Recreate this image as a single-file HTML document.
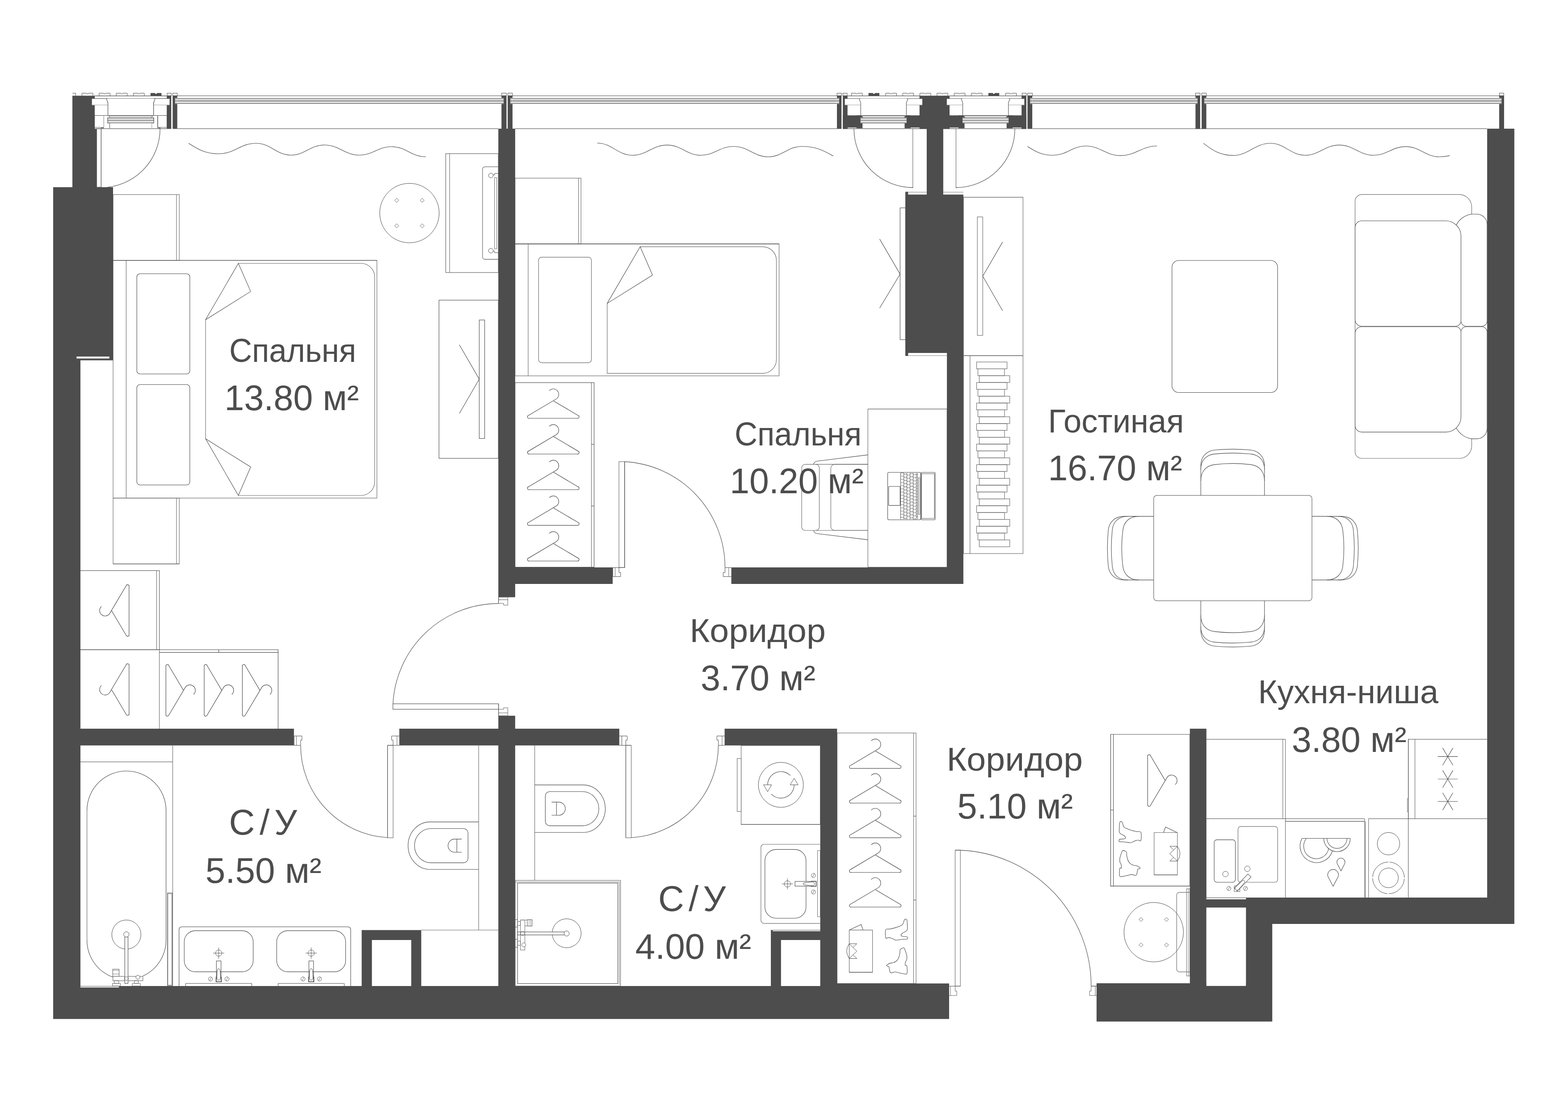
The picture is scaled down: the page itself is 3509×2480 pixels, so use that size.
<!DOCTYPE html>
<html lang="ru">
<head>
<meta charset="utf-8">
<title>План квартиры</title>
<style>
html,body{margin:0;padding:0;background:#fff;}
body{width:3509px;height:2480px;overflow:hidden;}
svg{display:block;}
text{font-family:"Liberation Sans",sans-serif;fill:#4d4d4d;}
</style>
</head>
<body>
<svg width="3509" height="2480" viewBox="0 0 3509 2480">
<rect width="3509" height="2480" fill="#fff"/>
<g id="bed1">
<rect x="253.1" y="435.5" width="148.1" height="147.2" rx="0" fill="none" stroke="#6e6e6e" stroke-width="1.15"/>
<path d="M395.0 435.5 L395.0 582.7" fill="none" stroke="#6e6e6e" stroke-width="1.15"/>
<rect x="253.1" y="1114.8" width="148.1" height="147.5" rx="0" fill="none" stroke="#6e6e6e" stroke-width="1.15"/>
<path d="M395.0 1114.8 L395.0 1262.3" fill="none" stroke="#6e6e6e" stroke-width="1.15"/>
<path d="M253.1 1262.3 L401.2 1262.3" fill="none" stroke="#4d4d4d" stroke-width="1.1"/>
<rect x="253.1" y="582.7" width="590.4" height="532.1" rx="0" fill="none" stroke="#6e6e6e" stroke-width="1.15"/>
<path d="M253.1 582.7 L843.5 582.7" fill="none" stroke="#4d4d4d" stroke-width="1.1"/>
<path d="M282.4 582.7 L282.4 1114.8" fill="none" stroke="#6e6e6e" stroke-width="1.15"/>
<rect x="306.2" y="612.7" width="118.6" height="224.3" rx="7" fill="none" stroke="#4d4d4d" stroke-width="1.1"/>
<rect x="306.2" y="860.8" width="118.6" height="224.7" rx="7" fill="none" stroke="#4d4d4d" stroke-width="1.1"/>
<path d="M533.4 589.5 L808 589.5 A30.5 30.5 0 0 1 838.5 620 L838.5 1078.5 A30.5 30.5 0 0 1 808 1109 L533.4 1109" fill="none" stroke="#6e6e6e" stroke-width="1.15" />
<path d="M460.0 715.8 L460.0 982.0" fill="none" stroke="#6e6e6e" stroke-width="1.15"/>
<path d="M460.0 715.8 L533.4 589.5 L561.0 652.4" fill="none" stroke="#4d4d4d" stroke-width="1.1"/>
<path d="M561.0 652.4 L460.0 715.8" fill="none" stroke="#4d4d4d" stroke-width="1.1"/>
<path d="M460.0 982.0 L533.4 1109.0 L561.0 1045.3" fill="none" stroke="#4d4d4d" stroke-width="1.1"/>
<path d="M561.0 1045.3 L460.0 982.0" fill="none" stroke="#4d4d4d" stroke-width="1.1"/>
<circle cx="916.3" cy="476.9" r="66.5" fill="none" stroke="#4d4d4d" stroke-width="1.0"/>
<path d="M883.2 448.4 L887.8 443.8 L892.4 448.4 L887.8 453.0 Z" fill="none" stroke="#4d4d4d" stroke-width="0.88"/>
<path d="M883.2 505.4 L887.8 500.8 L892.4 505.4 L887.8 510.0 Z" fill="none" stroke="#4d4d4d" stroke-width="0.88"/>
<path d="M940.2 448.4 L944.8 443.8 L949.4 448.4 L944.8 453.0 Z" fill="none" stroke="#4d4d4d" stroke-width="0.88"/>
<path d="M940.2 505.4 L944.8 500.8 L949.4 505.4 L944.8 510.0 Z" fill="none" stroke="#4d4d4d" stroke-width="0.88"/>
<rect x="997.5" y="343.9" width="117.7" height="266.1" rx="0" fill="none" stroke="#6e6e6e" stroke-width="1.26"/>
<path d="M1006.2 343.9 L1006.2 610.0" fill="none" stroke="#6e6e6e" stroke-width="1.15"/>
<path d="M1115.2 373.4 L1085.3 373.4 A5.5 5.5 0 0 0 1079.8 378.9 L1079.8 575 A5.5 5.5 0 0 0 1085.3 580.5 L1115.2 580.5" fill="none" stroke="#6e6e6e" stroke-width="1.26" />
<circle cx="1098.6" cy="392.8" r="5.2" fill="none" stroke="#4d4d4d" stroke-width="1.0"/>
<circle cx="1098.6" cy="561.1" r="5.2" fill="none" stroke="#4d4d4d" stroke-width="1.0"/>
<path d="M1103.5 391.5 L1107.0 391.5 L1107.0 388.2 L1115.2 388.2" fill="none" stroke="#4d4d4d" stroke-width="0.99"/>
<path d="M1103.5 562.4 L1107.0 562.4 L1107.0 565.7 L1115.2 565.7" fill="none" stroke="#4d4d4d" stroke-width="0.99"/>
<rect x="1106.6" y="397.5" width="5.0" height="159.5" rx="0" fill="none" stroke="#6e6e6e" stroke-width="1.03"/>
<rect x="982.4" y="671.8" width="132.8" height="354.1" rx="0" fill="none" stroke="#4d4d4d" stroke-width="1.1"/>
<rect x="1072.5" y="716.2" width="12.1" height="265.3" rx="0" fill="none" stroke="#4d4d4d" stroke-width="1.1"/>
<path d="M1028.0 771.8 L1072.5 848.6 L1028.0 925.5" fill="none" stroke="#4d4d4d" stroke-width="1.1"/>
<rect x="179.4" y="1277.1" width="177.2" height="177.2" rx="0" fill="none" stroke="#4d4d4d" stroke-width="1.1"/>
<path d="M350.5 1277.1 L350.5 1454.3" fill="none" stroke="#6e6e6e" stroke-width="1.15"/>
<path d="M356.6 1277.1 L356.6 1454.3" fill="none" stroke="#6e6e6e" stroke-width="1.15"/>
<path d="M179.4 1454.3 L622.4 1454.3 L622.4 1631.0" fill="none" stroke="#4d4d4d" stroke-width="1.1"/>
<path d="M356.6 1460.4 L622.4 1460.4" fill="none" stroke="#4d4d4d" stroke-width="1.1"/>
<path d="M489.6 1454.3 L489.6 1460.4" fill="none" stroke="#4d4d4d" stroke-width="1.1"/>
<path d="M356.6 1454.3 L356.6 1631.0" fill="none" stroke="#6e6e6e" stroke-width="1.15"/>
<path d="M-9 -22.6 A12.2 12.2 0 1 1 6.35 -3.98 L-55.2 32.6 A3.3 3.3 0 0 0 -53.5 39.2 L53.5 39.2 A3.3 3.3 0 0 0 55.2 32.6 L0.6 0.3" fill="none" stroke="#4d4d4d" stroke-width="1.15" transform="matrix(0 1 1 0 249.6 1366.5)"/>
<path d="M-9 -22.6 A12.2 12.2 0 1 1 6.35 -3.98 L-55.2 32.6 A3.3 3.3 0 0 0 -53.5 39.2 L53.5 39.2 A3.3 3.3 0 0 0 55.2 32.6 L0.6 0.3" fill="none" stroke="#4d4d4d" stroke-width="1.15" transform="matrix(0 1 1 0 249.6 1543.4)"/>
<path d="M-9 -22.6 A12.2 12.2 0 1 1 6.35 -3.98 L-55.2 32.6 A3.3 3.3 0 0 0 -53.5 39.2 L53.5 39.2 A3.3 3.3 0 0 0 55.2 32.6 L0.6 0.3" fill="none" stroke="#4d4d4d" stroke-width="1.15" transform="matrix(0 -1 -1 0 410.5 1545.2)"/>
<path d="M-9 -22.6 A12.2 12.2 0 1 1 6.35 -3.98 L-55.2 32.6 A3.3 3.3 0 0 0 -53.5 39.2 L53.5 39.2 A3.3 3.3 0 0 0 55.2 32.6 L0.6 0.3" fill="none" stroke="#4d4d4d" stroke-width="1.15" transform="matrix(0 -1 -1 0 496.2 1545.2)"/>
<path d="M-9 -22.6 A12.2 12.2 0 1 1 6.35 -3.98 L-55.2 32.6 A3.3 3.3 0 0 0 -53.5 39.2 L53.5 39.2 A3.3 3.3 0 0 0 55.2 32.6 L0.6 0.3" fill="none" stroke="#4d4d4d" stroke-width="1.15" transform="matrix(0 -1 -1 0 581.6 1545.2)"/>
</g>
<g id="bed2">
<rect x="1152.7" y="398.8" width="147.5" height="147.1" rx="0" fill="none" stroke="#6e6e6e" stroke-width="1.15"/>
<path d="M1294.6 398.8 L1294.6 545.9" fill="none" stroke="#6e6e6e" stroke-width="1.15"/>
<rect x="1152.7" y="545.9" width="590.8" height="295.4" rx="0" fill="none" stroke="#6e6e6e" stroke-width="1.15"/>
<path d="M1152.7 545.9 L1743.5 545.9" fill="none" stroke="#4d4d4d" stroke-width="1.1"/>
<path d="M1182.0 545.9 L1182.0 841.3" fill="none" stroke="#6e6e6e" stroke-width="1.15"/>
<rect x="1205.3" y="575.6" width="118.2" height="236.3" rx="7" fill="none" stroke="#6e6e6e" stroke-width="1.15"/>
<path d="M1432.6 552.3 L1707 552.3 A30.5 30.5 0 0 1 1737.5 582.8 L1737.5 805.1 A30.5 30.5 0 0 1 1707 835.6 L1358.8 835.6 L1358.8 679.1" fill="none" stroke="#6e6e6e" stroke-width="1.15" />
<path d="M1358.8 679.1 L1432.6 552.3 L1460.2 615.7" fill="none" stroke="#4d4d4d" stroke-width="1.1"/>
<path d="M1460.2 615.7 L1358.8 679.1" fill="none" stroke="#4d4d4d" stroke-width="1.1"/>
<rect x="1152.7" y="856.5" width="176.8" height="413.0" rx="0" fill="none" stroke="#4d4d4d" stroke-width="1.1"/>
<path d="M1323.5 856.5 L1323.5 1269.5" fill="none" stroke="#6e6e6e" stroke-width="1.15"/>
<path d="M1323.5 994.5 L1329.5 994.5" fill="none" stroke="#4d4d4d" stroke-width="1.1"/>
<path d="M1323.5 1132.5 L1329.5 1132.5" fill="none" stroke="#4d4d4d" stroke-width="1.1"/>
<path d="M-9 -22.6 A12.2 12.2 0 1 1 6.35 -3.98 L-55.2 32.6 A3.3 3.3 0 0 0 -53.5 39.2 L53.5 39.2 A3.3 3.3 0 0 0 55.2 32.6 L0.6 0.3" fill="none" stroke="#4d4d4d" stroke-width="1.15" transform="matrix(1 0 0 1 1238.2 897.1)"/>
<path d="M-9 -22.6 A12.2 12.2 0 1 1 6.35 -3.98 L-55.2 32.6 A3.3 3.3 0 0 0 -53.5 39.2 L53.5 39.2 A3.3 3.3 0 0 0 55.2 32.6 L0.6 0.3" fill="none" stroke="#4d4d4d" stroke-width="1.15" transform="matrix(1 0 0 1 1238.2 977.0)"/>
<path d="M-9 -22.6 A12.2 12.2 0 1 1 6.35 -3.98 L-55.2 32.6 A3.3 3.3 0 0 0 -53.5 39.2 L53.5 39.2 A3.3 3.3 0 0 0 55.2 32.6 L0.6 0.3" fill="none" stroke="#4d4d4d" stroke-width="1.15" transform="matrix(1 0 0 1 1238.2 1056.8)"/>
<path d="M-9 -22.6 A12.2 12.2 0 1 1 6.35 -3.98 L-55.2 32.6 A3.3 3.3 0 0 0 -53.5 39.2 L53.5 39.2 A3.3 3.3 0 0 0 55.2 32.6 L0.6 0.3" fill="none" stroke="#4d4d4d" stroke-width="1.15" transform="matrix(1 0 0 1 1238.2 1136.7)"/>
<path d="M-9 -22.6 A12.2 12.2 0 1 1 6.35 -3.98 L-55.2 32.6 A3.3 3.3 0 0 0 -53.5 39.2 L53.5 39.2 A3.3 3.3 0 0 0 55.2 32.6 L0.6 0.3" fill="none" stroke="#4d4d4d" stroke-width="1.15" transform="matrix(1 0 0 1 1238.2 1216.5)"/>
<rect x="2014.3" y="465.2" width="12.1" height="295.0" rx="0" fill="none" stroke="#4d4d4d" stroke-width="1.1"/>
<path d="M1968.6 535.1 L2014.3 613.6 L1968.6 689.5" fill="none" stroke="#4d4d4d" stroke-width="1.1"/>
<rect x="1942.2" y="915.5" width="177.1" height="354.0" rx="0" fill="none" stroke="#6e6e6e" stroke-width="1.15"/>
<path d="M1942.2 915.5 L2119.3 915.5" fill="none" stroke="#4d4d4d" stroke-width="1.1"/>
<rect x="1794.1" y="1039.3" width="39.4" height="147.9" rx="8" fill="none" stroke="#6e6e6e" stroke-width="1.15"/>
<path d="M1942.2 1039.3 L1868 1039.3 A8.7 8.7 0 0 0 1859.3 1048 L1859.3 1178.5 A8.7 8.7 0 0 0 1868 1187.2 L1942.2 1187.2" fill="none" stroke="#6e6e6e" stroke-width="1.15" />
<path d="M1826.0 1039.3 L1942.2 1039.3" fill="none" stroke="#4d4d4d" stroke-width="1.1"/>
<path d="M1826.0 1187.2 L1942.2 1187.2" fill="none" stroke="#6e6e6e" stroke-width="1.15"/>
<path d="M1942.2 1018.1 L1828 1032.2 Q1821.5 1033.5 1821 1039.3" fill="none" stroke="#4d4d4d" stroke-width="1.1" />
<path d="M1942.2 1208.1 L1828 1194.3 Q1821.5 1193 1821 1187.2" fill="none" stroke="#4d4d4d" stroke-width="1.1" />
<rect x="1986.5" y="1057.3" width="73.8" height="106.2" rx="3" fill="none" stroke="#4d4d4d" stroke-width="1.1"/>
<rect x="1988.7" y="1088.8" width="25.6" height="42.6" rx="1" fill="none" stroke="#4d4d4d" stroke-width="1.1"/>
<rect x="2061.2" y="1057.3" width="31.6" height="106.2" rx="1.5" fill="none" stroke="#4d4d4d" stroke-width="1.1"/>
<rect x="2062.3" y="1060.4" width="28.7" height="100.0" rx="0" fill="none" stroke="#6e6e6e" stroke-width="1.15"/>
<rect x="2055.5" y="1069.3" width="3.1" height="82.0" rx="0" fill="none" stroke="#6e6e6e" stroke-width="0.92"/>
<path d="M2015.5 1058.7 L2015.5 1162.2" fill="none" stroke="#4d4d4d" stroke-width="0.99"/>
<path d="M2022.7 1058.7 L2022.7 1162.2" fill="none" stroke="#4d4d4d" stroke-width="0.99"/>
<path d="M2029.6 1058.7 L2029.6 1162.2" fill="none" stroke="#4d4d4d" stroke-width="0.99"/>
<path d="M2036.5 1058.7 L2036.5 1162.2" fill="none" stroke="#4d4d4d" stroke-width="0.99"/>
<path d="M2043.6 1058.7 L2043.6 1162.2" fill="none" stroke="#4d4d4d" stroke-width="0.99"/>
<path d="M2050.5 1058.7 L2050.5 1162.2" fill="none" stroke="#4d4d4d" stroke-width="0.99"/>
<path d="M2053.4 1058.7 L2053.4 1162.2" fill="none" stroke="#4d4d4d" stroke-width="0.99"/>
<path d="M2015.5 1058.7 L2022.7 1058.7" fill="none" stroke="#6e6e6e" stroke-width="0.92"/>
<path d="M2015.5 1065.8 L2022.7 1065.8" fill="none" stroke="#6e6e6e" stroke-width="0.92"/>
<path d="M2015.5 1072.9 L2022.7 1072.9" fill="none" stroke="#6e6e6e" stroke-width="0.92"/>
<path d="M2015.5 1080.0 L2022.7 1080.0" fill="none" stroke="#6e6e6e" stroke-width="0.92"/>
<path d="M2015.5 1087.1 L2022.7 1087.1" fill="none" stroke="#6e6e6e" stroke-width="0.92"/>
<path d="M2015.5 1094.2 L2022.7 1094.2" fill="none" stroke="#6e6e6e" stroke-width="0.92"/>
<path d="M2015.5 1101.3 L2022.7 1101.3" fill="none" stroke="#6e6e6e" stroke-width="0.92"/>
<path d="M2015.5 1108.4 L2022.7 1108.4" fill="none" stroke="#6e6e6e" stroke-width="0.92"/>
<path d="M2015.5 1115.5 L2022.7 1115.5" fill="none" stroke="#6e6e6e" stroke-width="0.92"/>
<path d="M2015.5 1122.6 L2022.7 1122.6" fill="none" stroke="#6e6e6e" stroke-width="0.92"/>
<path d="M2015.5 1129.7 L2022.7 1129.7" fill="none" stroke="#6e6e6e" stroke-width="0.92"/>
<path d="M2015.5 1136.8 L2022.7 1136.8" fill="none" stroke="#6e6e6e" stroke-width="0.92"/>
<path d="M2015.5 1143.9 L2022.7 1143.9" fill="none" stroke="#6e6e6e" stroke-width="0.92"/>
<path d="M2015.5 1151.0 L2022.7 1151.0" fill="none" stroke="#6e6e6e" stroke-width="0.92"/>
<path d="M2015.5 1158.1 L2022.7 1158.1" fill="none" stroke="#6e6e6e" stroke-width="0.92"/>
<path d="M2022.7 1061.1 L2029.6 1061.1" fill="none" stroke="#4d4d4d" stroke-width="0.88"/>
<path d="M2022.7 1068.2 L2029.6 1068.2" fill="none" stroke="#4d4d4d" stroke-width="0.88"/>
<path d="M2022.7 1075.3 L2029.6 1075.3" fill="none" stroke="#4d4d4d" stroke-width="0.88"/>
<path d="M2022.7 1082.4 L2029.6 1082.4" fill="none" stroke="#4d4d4d" stroke-width="0.88"/>
<path d="M2022.7 1089.5 L2029.6 1089.5" fill="none" stroke="#4d4d4d" stroke-width="0.88"/>
<path d="M2022.7 1096.6 L2029.6 1096.6" fill="none" stroke="#4d4d4d" stroke-width="0.88"/>
<path d="M2022.7 1103.7 L2029.6 1103.7" fill="none" stroke="#4d4d4d" stroke-width="0.88"/>
<path d="M2022.7 1110.8 L2029.6 1110.8" fill="none" stroke="#4d4d4d" stroke-width="0.88"/>
<path d="M2022.7 1117.9 L2029.6 1117.9" fill="none" stroke="#4d4d4d" stroke-width="0.88"/>
<path d="M2022.7 1125.0 L2029.6 1125.0" fill="none" stroke="#4d4d4d" stroke-width="0.88"/>
<path d="M2022.7 1132.1 L2029.6 1132.1" fill="none" stroke="#4d4d4d" stroke-width="0.88"/>
<path d="M2022.7 1139.2 L2029.6 1139.2" fill="none" stroke="#4d4d4d" stroke-width="0.88"/>
<path d="M2022.7 1146.3 L2029.6 1146.3" fill="none" stroke="#4d4d4d" stroke-width="0.88"/>
<path d="M2022.7 1153.4 L2029.6 1153.4" fill="none" stroke="#4d4d4d" stroke-width="0.88"/>
<path d="M2022.7 1160.5 L2029.6 1160.5" fill="none" stroke="#4d4d4d" stroke-width="0.88"/>
<path d="M2029.6 1063.3 L2036.5 1063.3" fill="none" stroke="#6e6e6e" stroke-width="0.92"/>
<path d="M2029.6 1070.4 L2036.5 1070.4" fill="none" stroke="#6e6e6e" stroke-width="0.92"/>
<path d="M2029.6 1077.5 L2036.5 1077.5" fill="none" stroke="#6e6e6e" stroke-width="0.92"/>
<path d="M2029.6 1084.6 L2036.5 1084.6" fill="none" stroke="#6e6e6e" stroke-width="0.92"/>
<path d="M2029.6 1091.7 L2036.5 1091.7" fill="none" stroke="#6e6e6e" stroke-width="0.92"/>
<path d="M2029.6 1098.8 L2036.5 1098.8" fill="none" stroke="#6e6e6e" stroke-width="0.92"/>
<path d="M2029.6 1105.9 L2036.5 1105.9" fill="none" stroke="#6e6e6e" stroke-width="0.92"/>
<path d="M2029.6 1113.0 L2036.5 1113.0" fill="none" stroke="#6e6e6e" stroke-width="0.92"/>
<path d="M2029.6 1120.1 L2036.5 1120.1" fill="none" stroke="#6e6e6e" stroke-width="0.92"/>
<path d="M2029.6 1127.2 L2036.5 1127.2" fill="none" stroke="#6e6e6e" stroke-width="0.92"/>
<path d="M2029.6 1134.3 L2036.5 1134.3" fill="none" stroke="#6e6e6e" stroke-width="0.92"/>
<path d="M2029.6 1141.4 L2036.5 1141.4" fill="none" stroke="#6e6e6e" stroke-width="0.92"/>
<path d="M2029.6 1148.5 L2036.5 1148.5" fill="none" stroke="#6e6e6e" stroke-width="0.92"/>
<path d="M2029.6 1155.6 L2036.5 1155.6" fill="none" stroke="#6e6e6e" stroke-width="0.92"/>
<path d="M2036.5 1059.9 L2043.6 1059.9" fill="none" stroke="#4d4d4d" stroke-width="0.88"/>
<path d="M2036.5 1067.0 L2043.6 1067.0" fill="none" stroke="#4d4d4d" stroke-width="0.88"/>
<path d="M2036.5 1074.1 L2043.6 1074.1" fill="none" stroke="#4d4d4d" stroke-width="0.88"/>
<path d="M2036.5 1081.2 L2043.6 1081.2" fill="none" stroke="#4d4d4d" stroke-width="0.88"/>
<path d="M2036.5 1088.3 L2043.6 1088.3" fill="none" stroke="#4d4d4d" stroke-width="0.88"/>
<path d="M2036.5 1095.4 L2043.6 1095.4" fill="none" stroke="#4d4d4d" stroke-width="0.88"/>
<path d="M2036.5 1102.5 L2043.6 1102.5" fill="none" stroke="#4d4d4d" stroke-width="0.88"/>
<path d="M2036.5 1109.6 L2043.6 1109.6" fill="none" stroke="#4d4d4d" stroke-width="0.88"/>
<path d="M2036.5 1116.7 L2043.6 1116.7" fill="none" stroke="#4d4d4d" stroke-width="0.88"/>
<path d="M2036.5 1123.8 L2043.6 1123.8" fill="none" stroke="#4d4d4d" stroke-width="0.88"/>
<path d="M2036.5 1130.9 L2043.6 1130.9" fill="none" stroke="#4d4d4d" stroke-width="0.88"/>
<path d="M2036.5 1138.0 L2043.6 1138.0" fill="none" stroke="#4d4d4d" stroke-width="0.88"/>
<path d="M2036.5 1145.1 L2043.6 1145.1" fill="none" stroke="#4d4d4d" stroke-width="0.88"/>
<path d="M2036.5 1152.2 L2043.6 1152.2" fill="none" stroke="#4d4d4d" stroke-width="0.88"/>
<path d="M2036.5 1159.3 L2043.6 1159.3" fill="none" stroke="#4d4d4d" stroke-width="0.88"/>
<path d="M2043.6 1062.1 L2050.5 1062.1" fill="none" stroke="#6e6e6e" stroke-width="0.92"/>
<path d="M2043.6 1069.2 L2050.5 1069.2" fill="none" stroke="#6e6e6e" stroke-width="0.92"/>
<path d="M2043.6 1076.3 L2050.5 1076.3" fill="none" stroke="#6e6e6e" stroke-width="0.92"/>
<path d="M2043.6 1083.4 L2050.5 1083.4" fill="none" stroke="#6e6e6e" stroke-width="0.92"/>
<path d="M2043.6 1090.5 L2050.5 1090.5" fill="none" stroke="#6e6e6e" stroke-width="0.92"/>
<path d="M2043.6 1097.6 L2050.5 1097.6" fill="none" stroke="#6e6e6e" stroke-width="0.92"/>
<path d="M2043.6 1104.7 L2050.5 1104.7" fill="none" stroke="#6e6e6e" stroke-width="0.92"/>
<path d="M2043.6 1111.8 L2050.5 1111.8" fill="none" stroke="#6e6e6e" stroke-width="0.92"/>
<path d="M2043.6 1118.9 L2050.5 1118.9" fill="none" stroke="#6e6e6e" stroke-width="0.92"/>
<path d="M2043.6 1126.0 L2050.5 1126.0" fill="none" stroke="#6e6e6e" stroke-width="0.92"/>
<path d="M2043.6 1133.1 L2050.5 1133.1" fill="none" stroke="#6e6e6e" stroke-width="0.92"/>
<path d="M2043.6 1140.2 L2050.5 1140.2" fill="none" stroke="#6e6e6e" stroke-width="0.92"/>
<path d="M2043.6 1147.3 L2050.5 1147.3" fill="none" stroke="#6e6e6e" stroke-width="0.92"/>
<path d="M2043.6 1154.4 L2050.5 1154.4" fill="none" stroke="#6e6e6e" stroke-width="0.92"/>
<path d="M2043.6 1161.5 L2050.5 1161.5" fill="none" stroke="#6e6e6e" stroke-width="0.92"/>
<path d="M2050.5 1062.0 L2053.4 1062.0" fill="none" stroke="#6e6e6e" stroke-width="0.8"/>
<path d="M2050.5 1068.3 L2053.4 1068.3" fill="none" stroke="#6e6e6e" stroke-width="0.8"/>
<path d="M2050.5 1074.6 L2053.4 1074.6" fill="none" stroke="#6e6e6e" stroke-width="0.8"/>
<path d="M2050.5 1080.9 L2053.4 1080.9" fill="none" stroke="#6e6e6e" stroke-width="0.8"/>
<path d="M2050.5 1087.2 L2053.4 1087.2" fill="none" stroke="#6e6e6e" stroke-width="0.8"/>
<path d="M2050.5 1093.5 L2053.4 1093.5" fill="none" stroke="#6e6e6e" stroke-width="0.8"/>
<path d="M2050.5 1099.8 L2053.4 1099.8" fill="none" stroke="#6e6e6e" stroke-width="0.8"/>
<path d="M2050.5 1106.1 L2053.4 1106.1" fill="none" stroke="#6e6e6e" stroke-width="0.8"/>
<path d="M2050.5 1112.4 L2053.4 1112.4" fill="none" stroke="#6e6e6e" stroke-width="0.8"/>
<path d="M2050.5 1118.7 L2053.4 1118.7" fill="none" stroke="#6e6e6e" stroke-width="0.8"/>
<path d="M2050.5 1125.0 L2053.4 1125.0" fill="none" stroke="#6e6e6e" stroke-width="0.8"/>
<path d="M2050.5 1131.3 L2053.4 1131.3" fill="none" stroke="#6e6e6e" stroke-width="0.8"/>
<path d="M2050.5 1137.6 L2053.4 1137.6" fill="none" stroke="#6e6e6e" stroke-width="0.8"/>
<path d="M2050.5 1143.9 L2053.4 1143.9" fill="none" stroke="#6e6e6e" stroke-width="0.8"/>
<path d="M2050.5 1150.2 L2053.4 1150.2" fill="none" stroke="#6e6e6e" stroke-width="0.8"/>
<path d="M2050.5 1156.5 L2053.4 1156.5" fill="none" stroke="#6e6e6e" stroke-width="0.8"/>
</g>
<g id="living">
<rect x="2156.2" y="441.5" width="133.2" height="354.5" rx="0" fill="none" stroke="#6e6e6e" stroke-width="1.15"/>
<path d="M2156.2 441.5 L2289.4 441.5" fill="none" stroke="#4d4d4d" stroke-width="1.1"/>
<rect x="2187.2" y="485.5" width="12.1" height="265.2" rx="0" fill="none" stroke="#6e6e6e" stroke-width="1.15"/>
<path d="M2243.7 541.6 L2199.3 618.3 L2243.7 695.5" fill="none" stroke="#4d4d4d" stroke-width="1.1"/>
<rect x="2156.2" y="796.0" width="133.2" height="443.0" rx="0" fill="none" stroke="#6e6e6e" stroke-width="1.15"/>
<path d="M2170.8 796.0 L2170.8 1239.0" fill="none" stroke="#6e6e6e" stroke-width="1.15"/>
<rect x="2185.5" y="810.2" width="68.1" height="15.3" rx="0" fill="none" stroke="#6e6e6e" stroke-width="1.15"/>
<rect x="2188.5" y="825.5" width="59.5" height="15.3" rx="0" fill="none" stroke="#6e6e6e" stroke-width="1.15"/>
<rect x="2191.5" y="840.8" width="68.2" height="15.3" rx="0" fill="none" stroke="#6e6e6e" stroke-width="1.15"/>
<rect x="2185.5" y="856.2" width="68.1" height="15.3" rx="0" fill="none" stroke="#6e6e6e" stroke-width="1.15"/>
<rect x="2188.5" y="871.5" width="59.5" height="15.3" rx="0" fill="none" stroke="#6e6e6e" stroke-width="1.15"/>
<rect x="2191.5" y="886.8" width="68.2" height="15.3" rx="0" fill="none" stroke="#6e6e6e" stroke-width="1.15"/>
<rect x="2185.5" y="902.1" width="68.1" height="15.3" rx="0" fill="none" stroke="#6e6e6e" stroke-width="1.15"/>
<rect x="2188.5" y="917.4" width="59.5" height="15.3" rx="0" fill="none" stroke="#6e6e6e" stroke-width="1.15"/>
<rect x="2191.5" y="932.8" width="68.2" height="15.3" rx="0" fill="none" stroke="#6e6e6e" stroke-width="1.15"/>
<rect x="2185.5" y="948.1" width="68.1" height="15.3" rx="0" fill="none" stroke="#6e6e6e" stroke-width="1.15"/>
<rect x="2188.5" y="963.4" width="59.5" height="15.3" rx="0" fill="none" stroke="#6e6e6e" stroke-width="1.15"/>
<rect x="2191.5" y="978.7" width="68.2" height="15.3" rx="0" fill="none" stroke="#6e6e6e" stroke-width="1.15"/>
<rect x="2185.5" y="994.0" width="68.1" height="15.3" rx="0" fill="none" stroke="#6e6e6e" stroke-width="1.15"/>
<rect x="2188.5" y="1009.4" width="59.5" height="15.3" rx="0" fill="none" stroke="#6e6e6e" stroke-width="1.15"/>
<rect x="2191.5" y="1024.7" width="68.2" height="15.3" rx="0" fill="none" stroke="#6e6e6e" stroke-width="1.15"/>
<rect x="2185.5" y="1040.0" width="68.1" height="15.3" rx="0" fill="none" stroke="#6e6e6e" stroke-width="1.15"/>
<rect x="2188.5" y="1055.3" width="59.5" height="15.3" rx="0" fill="none" stroke="#6e6e6e" stroke-width="1.15"/>
<rect x="2191.5" y="1070.6" width="68.2" height="15.3" rx="0" fill="none" stroke="#6e6e6e" stroke-width="1.15"/>
<rect x="2185.5" y="1086.0" width="68.1" height="15.3" rx="0" fill="none" stroke="#6e6e6e" stroke-width="1.15"/>
<rect x="2188.5" y="1101.3" width="59.5" height="15.3" rx="0" fill="none" stroke="#6e6e6e" stroke-width="1.15"/>
<rect x="2191.5" y="1116.6" width="68.2" height="15.3" rx="0" fill="none" stroke="#6e6e6e" stroke-width="1.15"/>
<rect x="2185.5" y="1131.9" width="68.1" height="15.3" rx="0" fill="none" stroke="#6e6e6e" stroke-width="1.15"/>
<rect x="2188.5" y="1147.2" width="59.5" height="15.3" rx="0" fill="none" stroke="#6e6e6e" stroke-width="1.15"/>
<rect x="2191.5" y="1162.6" width="68.2" height="15.3" rx="0" fill="none" stroke="#6e6e6e" stroke-width="1.15"/>
<rect x="2185.5" y="1177.9" width="68.1" height="15.3" rx="0" fill="none" stroke="#6e6e6e" stroke-width="1.15"/>
<rect x="2188.5" y="1193.2" width="59.5" height="15.3" rx="0" fill="none" stroke="#6e6e6e" stroke-width="1.15"/>
<rect x="2191.5" y="1208.5" width="68.2" height="15.3" rx="0" fill="none" stroke="#6e6e6e" stroke-width="1.15"/>
<rect x="2622.8" y="583.0" width="236.3" height="295.5" rx="15" fill="none" stroke="#4d4d4d" stroke-width="1.1"/>
<path d="M3293.5 479.3 L3293.5 463.4 A28 28 0 0 0 3265.5 435.4 L3047.5 435.4 A15 15 0 0 0 3032.5 450.4 L3032.5 1011 A15 15 0 0 0 3047.5 1026 L3265.5 1026 A28 28 0 0 0 3293.5 998 L3293.5 982.1" fill="none" stroke="#6e6e6e" stroke-width="1.15" />
<path d="M3047.5 494.3 L3235.5 494.3 A34 34 0 0 1 3269.5 528.3 L3269.5 718 A12 12 0 0 1 3257.5 730.3 L3047.5 730.3 A15 15 0 0 1 3032.5 715.3 L3032.5 509.3 A15 15 0 0 1 3047.5 494.3 Z" fill="none" stroke="#4d4d4d" stroke-width="1.1" />
<path d="M3047.5 731.2 L3257.5 731.2 A12 12 0 0 1 3269.5 743.2 L3269.5 933 A34 34 0 0 1 3235.5 967.1 L3047.5 967.1 A15 15 0 0 1 3032.5 952.1 L3032.5 746.2 A15 15 0 0 1 3047.5 731.2 Z" fill="none" stroke="#4d4d4d" stroke-width="1.1" />
<path d="M3258.9 503.7 A46 46 0 0 1 3293.5 479.3 L3305 479.3 A23 23 0 0 1 3328 502.3 L3328 718 A12 12 0 0 1 3316 730.3 L3281.5 730.3 A12 12 0 0 1 3269.5 718.3" fill="none" stroke="#4d4d4d" stroke-width="1.1" />
<path d="M3258.9 957.7 A46 46 0 0 0 3293.5 982.1 L3305 982.1 A23 23 0 0 0 3328 959.1 L3328 743.4 A12 12 0 0 0 3316 731.2 L3281.5 731.2 A12 12 0 0 0 3269.5 743.2" fill="none" stroke="#4d4d4d" stroke-width="1.1" />
<g fill="none" stroke="#4d4d4d" stroke-width="1.1" transform="translate(2758.5 1108.9) rotate(0)"><path d="M-71.25 0 L-71.25 -66 C-71.25 -90 -55 -100 -40 -101.6 Q0 -105.5 40 -101.6 C55 -100 71.25 -90 71.25 -66 L71.25 0"/><path d="M-71.25 -58 C-71.25 -80 -58 -90.5 -42 -92.5 Q0 -97 42 -92.5 C58 -90.5 71.25 -80 71.25 -58"/><path d="M-71.25 -33 C-71.25 -55 -58 -67 -40 -69 Q0 -74 40 -69 C58 -67 71.25 -55 71.25 -33"/></g>
<g fill="none" stroke="#4d4d4d" stroke-width="1.1" transform="translate(2936.0 1226.9) rotate(90)"><path d="M-71.25 0 L-71.25 -66 C-71.25 -90 -55 -100 -40 -101.6 Q0 -105.5 40 -101.6 C55 -100 71.25 -90 71.25 -66 L71.25 0"/><path d="M-71.25 -58 C-71.25 -80 -58 -90.5 -42 -92.5 Q0 -97 42 -92.5 C58 -90.5 71.25 -80 71.25 -58"/><path d="M-71.25 -33 C-71.25 -55 -58 -67 -40 -69 Q0 -74 40 -69 C58 -67 71.25 -55 71.25 -33"/></g>
<g fill="none" stroke="#4d4d4d" stroke-width="1.1" transform="translate(2758.5 1344.6) rotate(180)"><path d="M-71.25 0 L-71.25 -66 C-71.25 -90 -55 -100 -40 -101.6 Q0 -105.5 40 -101.6 C55 -100 71.25 -90 71.25 -66 L71.25 0"/><path d="M-71.25 -58 C-71.25 -80 -58 -90.5 -42 -92.5 Q0 -97 42 -92.5 C58 -90.5 71.25 -80 71.25 -58"/><path d="M-71.25 -33 C-71.25 -55 -58 -67 -40 -69 Q0 -74 40 -69 C58 -67 71.25 -55 71.25 -33"/></g>
<g fill="none" stroke="#4d4d4d" stroke-width="1.1" transform="translate(2581.8 1226.9) rotate(270)"><path d="M-71.25 0 L-71.25 -66 C-71.25 -90 -55 -100 -40 -101.6 Q0 -105.5 40 -101.6 C55 -100 71.25 -90 71.25 -66 L71.25 0"/><path d="M-71.25 -58 C-71.25 -80 -58 -90.5 -42 -92.5 Q0 -97 42 -92.5 C58 -90.5 71.25 -80 71.25 -58"/><path d="M-71.25 -33 C-71.25 -55 -58 -67 -40 -69 Q0 -74 40 -69 C58 -67 71.25 -55 71.25 -33"/></g>
<rect x="2581.8" y="1108.9" width="354.2" height="235.7" rx="7" fill="#fff" stroke="#6e6e6e" stroke-width="1.26"/>
</g>
<g id="bath">
<path d="M386.5 1668.6 L386.5 2207.0" fill="none" stroke="#6e6e6e" stroke-width="1.15"/>
<path d="M179.4 1705.2 L386.5 1705.2" fill="none" stroke="#4d4d4d" stroke-width="1.1"/>
<path d="M194.6 1814.3 A88.5 88.5 0 0 1 371.6 1814.3 L371.6 2104 A88.5 88.5 0 0 1 319.7 2184.6 M252.7 2187.1 A88.5 88.5 0 0 1 194.6 2104" fill="none" stroke="#4d4d4d" stroke-width="1.1" />
<path d="M194.6 1814.3 L194.6 2104.0" fill="none" stroke="#6e6e6e" stroke-width="1.15"/>
<circle cx="282.8" cy="2091.8" r="32.6" fill="none" stroke="#4d4d4d" stroke-width="1.0"/>
<rect x="279.3" y="2097.0" width="7.2" height="104.2" rx="0" fill="#fff" stroke="#4d4d4d" stroke-width="1.1"/>
<circle cx="282.8" cy="2091.5" r="6.0" fill="#fff" stroke="#4d4d4d" stroke-width="1.0"/>
<rect x="252.7" y="2185.4" width="26.6" height="9.7" rx="0" fill="none" stroke="#6e6e6e" stroke-width="1.15"/>
<rect x="286.5" y="2185.4" width="33.2" height="9.7" rx="0" fill="none" stroke="#6e6e6e" stroke-width="1.15"/>
<rect x="252.3" y="2169.3" width="14.2" height="16.1" rx="0" fill="none" stroke="#6e6e6e" stroke-width="1.15"/>
<path d="M252.3 2172.0 L266.5 2172.0" fill="none" stroke="#6e6e6e" stroke-width="0.92"/>
<path d="M252.3 2180.0 L266.5 2180.0" fill="none" stroke="#6e6e6e" stroke-width="0.92"/>
<circle cx="308.6" cy="2187.4" r="4.5" fill="#fff" stroke="#4d4d4d" stroke-width="1.0"/>
<circle cx="283.0" cy="2190.3" r="4.3" fill="none" stroke="#4d4d4d" stroke-width="0.8"/>
<rect x="255.7" y="2195.1" width="10.0" height="6.1" rx="0" fill="none" stroke="#6e6e6e" stroke-width="1.03"/>
<rect x="251.5" y="2201.2" width="18.0" height="5.8" rx="0" fill="none" stroke="#6e6e6e" stroke-width="1.03"/>
<rect x="300.6" y="2195.1" width="8.8" height="6.1" rx="0" fill="none" stroke="#6e6e6e" stroke-width="1.03"/>
<rect x="295.9" y="2201.2" width="18.0" height="5.8" rx="0" fill="none" stroke="#6e6e6e" stroke-width="1.03"/>
<rect x="374.6" y="1998.6" width="11.3" height="207.6" rx="0" fill="none" stroke="#6e6e6e" stroke-width="1.15"/>
<rect x="375.8" y="2000.3" width="8.8" height="204.7" rx="0" fill="none" stroke="#6e6e6e" stroke-width="0.92"/>
<path d="M400.7 2207 L400.7 2080.5 A6 6 0 0 1 406.7 2074.5 L778.8 2074.5 A6 6 0 0 1 784.8 2080.5 L784.8 2207" fill="none" stroke="#4d4d4d" stroke-width="1.1" />
<rect x="412.3" y="2083.1" width="154.3" height="92.0" rx="25" fill="none" stroke="#4d4d4d" stroke-width="1.1"/>
<circle cx="489.4" cy="2133.3" r="7.0" fill="none" stroke="#4d4d4d" stroke-width="0.9"/>
<path d="M476.9 2133.3 L501.9 2133.3" fill="none" stroke="#4d4d4d" stroke-width="0.88"/>
<path d="M489.4 2120.8 L489.4 2145.8" fill="none" stroke="#4d4d4d" stroke-width="0.88"/>
<rect x="484.3" y="2150.8" width="10.3" height="46.3" rx="0" fill="none" stroke="#4d4d4d" stroke-width="1.1"/>
<path d="M483.2 2186.2 L483.2 2197.6 L495.7 2197.6 L495.7 2186.2" fill="none" stroke="#4d4d4d" stroke-width="1.1" />
<path d="M485.4 2190 Q485.4 2172 487.4 2169 Q489.4 2166.5 491.4 2169 Q493.4 2172 493.4 2190 Q489.4 2197.5 485.4 2190 Z" fill="#fff" stroke="#4d4d4d" stroke-width="0.99" />
<circle cx="471.1" cy="2191.2" r="4.7" fill="none" stroke="#4d4d4d" stroke-width="0.9"/>
<path d="M468.9 2194.8 L473.3 2187.6" fill="none" stroke="#4d4d4d" stroke-width="0.88"/>
<circle cx="508.0" cy="2191.2" r="4.7" fill="none" stroke="#4d4d4d" stroke-width="0.9"/>
<path d="M505.8 2194.8 L510.2 2187.6" fill="none" stroke="#4d4d4d" stroke-width="0.88"/>
<path d="M415.4 2207.0 L415.4 2201.2 L563.4 2201.2 L563.4 2207.0" fill="none" stroke="#4d4d4d" stroke-width="0.99"/>
<rect x="619.2" y="2083.1" width="154.3" height="92.0" rx="25" fill="none" stroke="#4d4d4d" stroke-width="1.1"/>
<circle cx="696.4" cy="2133.3" r="7.0" fill="none" stroke="#4d4d4d" stroke-width="0.9"/>
<path d="M683.9 2133.3 L708.9 2133.3" fill="none" stroke="#4d4d4d" stroke-width="0.88"/>
<path d="M696.4 2120.8 L696.4 2145.8" fill="none" stroke="#4d4d4d" stroke-width="0.88"/>
<rect x="691.3" y="2150.8" width="10.3" height="46.3" rx="0" fill="none" stroke="#4d4d4d" stroke-width="1.1"/>
<path d="M690.2 2186.2 L690.2 2197.6 L702.7 2197.6 L702.7 2186.2" fill="none" stroke="#4d4d4d" stroke-width="1.1" />
<path d="M692.4 2190 Q692.4 2172 694.4 2169 Q696.4 2166.5 698.4 2169 Q700.4 2172 700.4 2190 Q696.4 2197.5 692.4 2190 Z" fill="#fff" stroke="#4d4d4d" stroke-width="0.99" />
<circle cx="678.1" cy="2191.2" r="4.7" fill="none" stroke="#4d4d4d" stroke-width="0.9"/>
<path d="M675.9 2194.8 L680.3 2187.6" fill="none" stroke="#4d4d4d" stroke-width="0.88"/>
<circle cx="715.0" cy="2191.2" r="4.7" fill="none" stroke="#4d4d4d" stroke-width="0.9"/>
<path d="M712.8 2194.8 L717.2 2187.6" fill="none" stroke="#4d4d4d" stroke-width="0.88"/>
<path d="M622.4 2207.0 L622.4 2201.2 L770.4 2201.2 L770.4 2207.0" fill="none" stroke="#4d4d4d" stroke-width="0.99"/>
<g fill="none" stroke="#4d4d4d" stroke-width="1.1" transform="translate(1196.6 1810.1)"><path d="M0 -53.2 L108.7 -53.2 A49.3 53.2 0 0 1 108.7 53.2 L0 53.2"/><path d="M33.8 -38.3 L106.5 -38.3 A37.1 38.3 0 0 1 106.5 38.3 L33.8 38.3 A10 10 0 0 1 23.8 28.3 L23.8 -28.3 A10 10 0 0 1 33.8 -38.3 Z"/><path d="M37.9 -14.7 L53.8 -14.7 A14.7 14.7 0 0 1 53.8 14.7 L37.9 14.7 M48.8 -14.7 L48.8 14.7"/></g>
<g fill="none" stroke="#4d4d4d" stroke-width="1.1" transform="translate(1071.2 1892.8) scale(-1 1)"><path d="M0 -53.2 L108.7 -53.2 A49.3 53.2 0 0 1 108.7 53.2 L0 53.2"/><path d="M33.8 -38.3 L106.5 -38.3 A37.1 38.3 0 0 1 106.5 38.3 L33.8 38.3 A10 10 0 0 1 23.8 28.3 L23.8 -28.3 A10 10 0 0 1 33.8 -38.3 Z"/><path d="M37.9 -14.7 L53.8 -14.7 A14.7 14.7 0 0 1 53.8 14.7 L37.9 14.7 M48.8 -14.7 L48.8 14.7"/></g>
<path d="M1071.2 1668.6 L1071.2 2081.7 L1115.2 2081.7" fill="none" stroke="#6e6e6e" stroke-width="1.15"/>
<path d="M942.7 2081.7 L1071.2 2081.7" fill="none" stroke="#6e6e6e" stroke-width="1.15"/>
<path d="M1196.6 1668.6 L1196.6 1970.5" fill="none" stroke="#6e6e6e" stroke-width="1.15"/>
<rect x="1153.0" y="1970.5" width="235.7" height="236.5" rx="0" fill="none" stroke="#6e6e6e" stroke-width="1.15"/>
<path d="M1153.0 1974.1 L1386.0 1974.1 L1386.0 2204.0" fill="none" stroke="#6e6e6e" stroke-width="1.03"/>
<rect x="1158.3" y="1976.6" width="224.3" height="224.9" rx="0" fill="none" stroke="#4d4d4d" stroke-width="1.1"/>
<circle cx="1268.1" cy="2088.9" r="32.4" fill="none" stroke="#4d4d4d" stroke-width="1.0"/>
<rect x="1158.3" y="2085.9" width="104.8" height="6.7" rx="0" fill="#fff" stroke="#4d4d4d" stroke-width="1.1"/>
<circle cx="1268.1" cy="2089.4" r="5.8" fill="#fff" stroke="#4d4d4d" stroke-width="1.0"/>
<rect x="1164.6" y="2059.3" width="10.0" height="67.0" rx="0" fill="none" stroke="#6e6e6e" stroke-width="1.03"/>
<rect x="1179.9" y="2058.5" width="10.8" height="14.3" rx="0" fill="none" stroke="#4d4d4d" stroke-width="0.99"/>
<path d="M1164.6 2059.3 L1179.9 2059.3" fill="none" stroke="#6e6e6e" stroke-width="1.03"/>
<path d="M1174.6 2072.3 L1179.9 2072.3" fill="none" stroke="#6e6e6e" stroke-width="1.03"/>
<path d="M1184.0 2058.5 L1184.0 2072.8" fill="none" stroke="#6e6e6e" stroke-width="0.8"/>
<path d="M1187.5 2058.5 L1187.5 2072.8" fill="none" stroke="#6e6e6e" stroke-width="0.8"/>
<circle cx="1172.1" cy="2114.9" r="4.5" fill="#fff" stroke="#4d4d4d" stroke-width="0.9"/>
<circle cx="1169.6" cy="2089.3" r="4.6" fill="none" stroke="#4d4d4d" stroke-width="0.8"/>
<path d="M1153.0 2058.3 L1158.3 2058.3" fill="none" stroke="#4d4d4d" stroke-width="0.99"/>
<path d="M1153.0 2075.0 L1158.3 2075.0" fill="none" stroke="#4d4d4d" stroke-width="0.99"/>
<path d="M1153.0 2102.3 L1158.3 2102.3" fill="none" stroke="#4d4d4d" stroke-width="0.99"/>
<path d="M1153.0 2120.3 L1158.3 2120.3" fill="none" stroke="#4d4d4d" stroke-width="0.99"/>
<rect x="1158.3" y="2062.6" width="6.3" height="8.9" rx="0" fill="none" stroke="#4d4d4d" stroke-width="0.88"/>
<rect x="1158.3" y="2106.3" width="6.3" height="9.7" rx="0" fill="none" stroke="#4d4d4d" stroke-width="0.88"/>
<rect x="1658.6" y="1668.8" width="177.1" height="176.6" rx="0" fill="none" stroke="#6e6e6e" stroke-width="1.15"/>
<path d="M1658.6 1845.4 L1835.7 1845.4" fill="none" stroke="#4d4d4d" stroke-width="1.1"/>
<rect x="1649.7" y="1697.7" width="8.9" height="118.6" rx="0" fill="none" stroke="#6e6e6e" stroke-width="1.15"/>
<circle cx="1747.5" cy="1756.7" r="50.4" fill="none" stroke="#4d4d4d" stroke-width="1.0"/>
<path d="M1717.9 1756.7 A29.7 29.7 0 0 1 1768.8 1735.9" fill="none" stroke="#4d4d4d" stroke-width="1.1" />
<path d="M1777.2 1756.7 A29.7 29.7 0 0 1 1726.3 1777.5" fill="none" stroke="#4d4d4d" stroke-width="1.1" />
<path d="M1708.7 1756.7 L1726.8 1756.7 L1717.9 1772.0 Z" fill="#fff" stroke="#4d4d4d" stroke-width="0.99"/>
<path d="M1768.3 1756.7 L1786.1 1756.7 L1777.2 1742.0 Z" fill="#fff" stroke="#4d4d4d" stroke-width="0.99"/>
<path d="M1835.7 1889.7 L1709.9 1889.7 A7 7 0 0 0 1702.9 1896.7 L1702.9 2059.9 A7 7 0 0 0 1709.9 2066.9 L1835.7 2066.9" fill="none" stroke="#6e6e6e" stroke-width="1.15" />
<rect x="1711.8" y="1901.4" width="92.0" height="153.8" rx="25" fill="none" stroke="#4d4d4d" stroke-width="1.1"/>
<circle cx="1762.2" cy="1978.4" r="7.0" fill="none" stroke="#4d4d4d" stroke-width="0.9"/>
<path d="M1749.7 1978.4 L1774.7 1978.4" fill="none" stroke="#4d4d4d" stroke-width="0.88"/>
<path d="M1762.2 1965.9 L1762.2 1990.9" fill="none" stroke="#4d4d4d" stroke-width="0.88"/>
<rect x="1779.1" y="1972.9" width="47.2" height="10.5" rx="0" fill="#fff" stroke="#4d4d4d" stroke-width="1.1"/>
<path d="M1798 1976.5 Q1797 1978.2 1798 1980 L1815 1982.5 Q1823 1983 1823 1978.2 Q1823 1973.4 1815 1974 Z" fill="#fff" stroke="#4d4d4d" stroke-width="0.99" />
<path d="M1814.5 1972.4 L1826.8 1972.4 L1826.8 1984.0 L1814.5 1984.0" fill="none" stroke="#4d4d4d" stroke-width="1.1"/>
<circle cx="1820.4" cy="1959.6" r="4.7" fill="none" stroke="#4d4d4d" stroke-width="0.9"/>
<path d="M1818.2 1963.2 L1822.6 1956.0" fill="none" stroke="#4d4d4d" stroke-width="0.88"/>
<circle cx="1820.4" cy="1996.5" r="4.7" fill="none" stroke="#4d4d4d" stroke-width="0.9"/>
<path d="M1818.2 2000.1 L1822.6 1992.9" fill="none" stroke="#4d4d4d" stroke-width="0.88"/>
<rect x="1829.6" y="1903.9" width="6.1" height="148.0" rx="0" fill="none" stroke="#6e6e6e" stroke-width="1.03"/>
</g>
<g id="hall">
<rect x="1873.3" y="1640.6" width="176.7" height="560.7" rx="0" fill="none" stroke="#6e6e6e" stroke-width="1.15"/>
<path d="M2044.5 1640.6 L2044.5 2201.3" fill="none" stroke="#6e6e6e" stroke-width="1.15"/>
<path d="M2044.5 1826.8 L2050.0 1826.8" fill="none" stroke="#4d4d4d" stroke-width="1.1"/>
<path d="M2044.5 2014.4 L2050.0 2014.4" fill="none" stroke="#4d4d4d" stroke-width="1.1"/>
<path d="M-9 -22.6 A12.2 12.2 0 1 1 6.35 -3.98 L-55.2 32.6 A3.3 3.3 0 0 0 -53.5 39.2 L53.5 39.2 A3.3 3.3 0 0 0 55.2 32.6 L0.6 0.3" fill="none" stroke="#4d4d4d" stroke-width="1.15" transform="matrix(1 0 0 1 1958.7 1680.7)"/>
<path d="M-9 -22.6 A12.2 12.2 0 1 1 6.35 -3.98 L-55.2 32.6 A3.3 3.3 0 0 0 -53.5 39.2 L53.5 39.2 A3.3 3.3 0 0 0 55.2 32.6 L0.6 0.3" fill="none" stroke="#4d4d4d" stroke-width="1.15" transform="matrix(1 0 0 1 1958.7 1758.3)"/>
<path d="M-9 -22.6 A12.2 12.2 0 1 1 6.35 -3.98 L-55.2 32.6 A3.3 3.3 0 0 0 -53.5 39.2 L53.5 39.2 A3.3 3.3 0 0 0 55.2 32.6 L0.6 0.3" fill="none" stroke="#4d4d4d" stroke-width="1.15" transform="matrix(1 0 0 1 1958.7 1835.9)"/>
<path d="M-9 -22.6 A12.2 12.2 0 1 1 6.35 -3.98 L-55.2 32.6 A3.3 3.3 0 0 0 -53.5 39.2 L53.5 39.2 A3.3 3.3 0 0 0 55.2 32.6 L0.6 0.3" fill="none" stroke="#4d4d4d" stroke-width="1.15" transform="matrix(1 0 0 1 1958.7 1913.5)"/>
<path d="M-9 -22.6 A12.2 12.2 0 1 1 6.35 -3.98 L-55.2 32.6 A3.3 3.3 0 0 0 -53.5 39.2 L53.5 39.2 A3.3 3.3 0 0 0 55.2 32.6 L0.6 0.3" fill="none" stroke="#4d4d4d" stroke-width="1.15" transform="matrix(1 0 0 1 1958.7 1991.1)"/>
<path d="M1982.3 2081.0 C1983.9 2077.7 1988.5 2080.1 1992.0 2079.4 C1995.5 2078.6 1999.4 2077.7 2003.1 2076.6 C2006.8 2075.5 2011.5 2073.8 2014.2 2072.7 C2016.9 2071.6 2017.9 2071.0 2019.2 2069.9 C2020.5 2068.8 2021.1 2067.5 2021.7 2066.1 C2022.4 2064.6 2022.4 2062.4 2022.9 2061.1 C2023.4 2059.7 2023.9 2058.6 2024.7 2058.0 C2025.6 2057.3 2027.2 2056.8 2028.1 2057.2 C2028.9 2057.5 2029.4 2058.4 2029.7 2060.0 C2030.1 2061.5 2030.2 2063.3 2030.3 2066.6 C2030.4 2069.9 2031.0 2077.0 2030.5 2079.9 C2030.0 2082.9 2028.9 2083.2 2027.5 2084.4 C2026.1 2085.6 2023.6 2086.1 2022.0 2087.1 C2020.3 2088.2 2018.5 2089.7 2017.5 2090.8 C2016.6 2091.9 2016.2 2093.0 2016.4 2093.8 C2016.6 2094.6 2017.2 2095.0 2018.6 2095.4 C2020.1 2095.9 2023.3 2096.1 2025.3 2096.3 C2027.3 2096.6 2029.6 2096.2 2030.5 2097.1 C2031.4 2098.0 2031.7 2101.0 2030.5 2101.9 C2029.3 2102.7 2025.8 2102.1 2023.1 2102.3 C2020.4 2102.5 2017.3 2102.9 2014.2 2103.2 C2011.2 2103.5 2007.2 2104.5 2004.8 2104.3 C2002.4 2104.1 2001.5 2102.9 1999.8 2102.1 C1998.0 2101.3 1996.3 2100.3 1994.2 2099.7 C1992.2 2099.1 1989.6 2098.6 1987.6 2098.6 C1985.6 2098.5 1983.1 2102.2 1982.3 2099.3 C1981.4 2096.4 1980.6 2084.4 1982.3 2081.0 Z" fill="none" stroke="#4d4d4d" stroke-width="1.1" />
<path d="M2022.9 2121.5 C2021.4 2121.1 2017.9 2122.9 2016.4 2123.7 C2015.0 2124.6 2014.6 2125.1 2014.2 2126.5 C2013.8 2127.9 2014.3 2129.9 2014.0 2132.1 C2013.7 2134.2 2013.2 2136.9 2012.5 2139.3 C2011.8 2141.7 2011.1 2144.3 2009.8 2146.5 C2008.5 2148.6 2006.6 2150.6 2004.8 2152.0 C2002.9 2153.4 2000.8 2154.1 1998.7 2154.8 C1996.5 2155.4 1994.1 2155.3 1992.0 2155.9 C1990.0 2156.5 1987.9 2157.8 1986.5 2158.7 C1985.1 2159.5 1983.9 2160.2 1983.7 2160.9 C1983.5 2161.5 1984.4 2162.1 1985.4 2162.6 C1986.3 2163.0 1988.4 2162.5 1989.2 2163.7 C1990.1 2164.9 1989.9 2167.6 1990.4 2169.8 C1990.8 2171.9 1991.2 2175.1 1992.0 2176.4 C1992.9 2177.7 1993.5 2177.7 1995.3 2177.5 C1997.2 2177.4 2000.3 2175.5 2003.1 2175.5 C2005.9 2175.5 2008.8 2176.9 2012.0 2177.5 C2015.1 2178.2 2019.0 2179.3 2022.0 2179.5 C2024.9 2179.8 2028.3 2182.1 2029.5 2179.2 C2030.8 2176.3 2030.1 2165.1 2029.5 2162.0 C2028.9 2159.0 2026.4 2162.2 2025.9 2160.9 C2025.3 2159.6 2025.9 2155.9 2026.2 2154.2 C2026.5 2152.6 2027.0 2152.0 2027.5 2150.9 C2028.0 2149.8 2028.8 2149.2 2029.2 2147.6 C2029.5 2145.9 2029.7 2143.1 2029.5 2140.9 C2029.3 2138.7 2028.8 2136.7 2028.1 2134.3 C2027.4 2131.9 2026.2 2128.6 2025.3 2126.5 C2024.4 2124.4 2024.3 2122.0 2022.9 2121.5 Z" fill="none" stroke="#4d4d4d" stroke-width="1.1" />
<path d="M1900.5 2081.6 L1952.6 2081.6 L1952.6 2176.4 L1900.5 2176.4 Z" fill="none" stroke="#6e6e6e" stroke-width="1.15"/>
<path d="M1900.5 2176.4 L1952.6 2176.4" fill="none" stroke="#4d4d4d" stroke-width="1.1"/>
<path d="M1901.1 2081.6 L1927.1 2069.2 L1931.6 2081.6" fill="none" stroke="#4d4d4d" stroke-width="1.1"/>
<path d="M1900.5 2112.3 L1917.5 2112.3 L1909.0 2120.4" fill="none" stroke="#4d4d4d" stroke-width="0.99"/>
<path d="M1900.5 2145.4 L1917.5 2145.4 L1909.0 2137.4" fill="none" stroke="#4d4d4d" stroke-width="0.99"/>
<path d="M1900.5 2112.3 L1917.5 2129.1 L1900.5 2145.4" fill="none" stroke="#4d4d4d" stroke-width="0.99"/>
<path d="M1900.5 2112.3 Q1888.9 2128.8 1900.5 2145.4" fill="none" stroke="#4d4d4d" stroke-width="0.99" />
<rect x="2485.5" y="1643.7" width="177.2" height="339.7" rx="0" fill="none" stroke="#6e6e6e" stroke-width="1.15"/>
<path d="M2485.5 1643.7 L2485.5 1983.4 L2662.7 1983.4" fill="none" stroke="#4d4d4d" stroke-width="1.1"/>
<path d="M2491.7 1643.7 L2491.7 1983.4" fill="none" stroke="#4d4d4d" stroke-width="1.1"/>
<path d="M2485.5 1813.1 L2491.7 1813.1" fill="none" stroke="#4d4d4d" stroke-width="1.1"/>
<path d="M-9 -22.6 A12.2 12.2 0 1 1 6.35 -3.98 L-55.2 32.6 A3.3 3.3 0 0 0 -53.5 39.2 L53.5 39.2 A3.3 3.3 0 0 0 55.2 32.6 L0.6 0.3" fill="none" stroke="#4d4d4d" stroke-width="1.15" transform="matrix(0 -1 -1 0 2607.5 1747.0)"/>
<path d="M2553.1 1862.9 C2551.5 1859.6 2546.9 1862.0 2543.4 1861.3 C2539.9 1860.5 2536.0 1859.6 2532.3 1858.5 C2528.6 1857.4 2523.9 1855.7 2521.2 1854.6 C2518.5 1853.5 2517.5 1852.9 2516.2 1851.8 C2514.9 1850.7 2514.3 1849.4 2513.7 1848.0 C2513.0 1846.5 2513.0 1844.3 2512.5 1843.0 C2512.0 1841.6 2511.5 1840.5 2510.7 1839.9 C2509.8 1839.2 2508.2 1838.7 2507.3 1839.1 C2506.5 1839.4 2506.0 1840.3 2505.7 1841.9 C2505.3 1843.4 2505.2 1845.2 2505.1 1848.5 C2505.0 1851.8 2504.4 1858.9 2504.9 1861.8 C2505.4 1864.8 2506.5 1865.1 2507.9 1866.3 C2509.3 1867.5 2511.8 1868.0 2513.4 1869.0 C2515.1 1870.1 2516.9 1871.6 2517.9 1872.7 C2518.8 1873.8 2519.2 1874.9 2519.0 1875.7 C2518.8 1876.5 2518.2 1876.9 2516.8 1877.3 C2515.3 1877.8 2512.1 1878.0 2510.1 1878.2 C2508.1 1878.5 2505.8 1878.1 2504.9 1879.0 C2504.0 1879.9 2503.7 1882.9 2504.9 1883.8 C2506.1 1884.6 2509.6 1884.0 2512.3 1884.2 C2515.0 1884.4 2518.1 1884.8 2521.2 1885.1 C2524.2 1885.4 2528.2 1886.4 2530.6 1886.2 C2533.0 1886.0 2533.9 1884.8 2535.6 1884.0 C2537.4 1883.2 2539.1 1882.2 2541.2 1881.6 C2543.2 1881.0 2545.8 1880.5 2547.8 1880.5 C2549.8 1880.4 2552.3 1884.1 2553.1 1881.2 C2554.0 1878.3 2554.8 1866.3 2553.1 1862.9 Z" fill="none" stroke="#4d4d4d" stroke-width="1.1" />
<path d="M2512.5 1903.4 C2514.0 1903.0 2517.5 1904.8 2519.0 1905.6 C2520.4 1906.5 2520.8 1907.0 2521.2 1908.4 C2521.6 1909.8 2521.1 1911.8 2521.4 1914.0 C2521.7 1916.1 2522.2 1918.8 2522.9 1921.2 C2523.6 1923.6 2524.3 1926.2 2525.6 1928.4 C2526.9 1930.5 2528.8 1932.5 2530.6 1933.9 C2532.5 1935.3 2534.6 1936.0 2536.7 1936.7 C2538.9 1937.3 2541.3 1937.2 2543.4 1937.8 C2545.4 1938.4 2547.5 1939.7 2548.9 1940.6 C2550.3 1941.4 2551.5 1942.1 2551.7 1942.8 C2551.9 1943.4 2551.0 1944.0 2550.0 1944.5 C2549.1 1944.9 2547.0 1944.4 2546.2 1945.6 C2545.3 1946.8 2545.5 1949.5 2545.0 1951.7 C2544.6 1953.8 2544.2 1957.0 2543.4 1958.3 C2542.5 1959.6 2541.9 1959.6 2540.1 1959.4 C2538.2 1959.3 2535.1 1957.4 2532.3 1957.4 C2529.5 1957.4 2526.6 1958.8 2523.4 1959.4 C2520.3 1960.1 2516.4 1961.2 2513.4 1961.4 C2510.5 1961.7 2507.1 1964.0 2505.9 1961.1 C2504.6 1958.2 2505.3 1947.0 2505.9 1943.9 C2506.5 1940.9 2509.0 1944.1 2509.5 1942.8 C2510.1 1941.5 2509.5 1937.8 2509.2 1936.1 C2508.9 1934.5 2508.4 1933.9 2507.9 1932.8 C2507.4 1931.7 2506.6 1931.1 2506.2 1929.5 C2505.9 1927.8 2505.7 1925.0 2505.9 1922.8 C2506.1 1920.6 2506.6 1918.6 2507.3 1916.2 C2508.0 1913.8 2509.2 1910.5 2510.1 1908.4 C2511.0 1906.3 2511.1 1903.9 2512.5 1903.4 Z" fill="none" stroke="#4d4d4d" stroke-width="1.1" />
<path d="M2634.9 1863.5 L2582.8 1863.5 L2582.8 1958.3 L2634.9 1958.3 Z" fill="none" stroke="#6e6e6e" stroke-width="1.15"/>
<path d="M2634.9 1958.3 L2582.8 1958.3" fill="none" stroke="#4d4d4d" stroke-width="1.1"/>
<path d="M2634.3 1863.5 L2608.3 1851.1 L2603.8 1863.5" fill="none" stroke="#4d4d4d" stroke-width="1.1"/>
<path d="M2634.9 1894.2 L2617.9 1894.2 L2626.4 1902.3" fill="none" stroke="#4d4d4d" stroke-width="0.99"/>
<path d="M2634.9 1927.3 L2617.9 1927.3 L2626.4 1919.3" fill="none" stroke="#4d4d4d" stroke-width="0.99"/>
<path d="M2634.9 1894.2 L2617.9 1911.0 L2634.9 1927.3" fill="none" stroke="#4d4d4d" stroke-width="0.99"/>
<path d="M2634.9 1894.2 Q2646.5 1910.7 2634.9 1927.3" fill="none" stroke="#4d4d4d" stroke-width="0.99" />
<circle cx="2581.9" cy="2086.5" r="66.5" fill="none" stroke="#4d4d4d" stroke-width="1.0"/>
<path d="M2548.8 2058.0 L2553.4 2053.4 L2558.0 2058.0 L2553.4 2062.6 Z" fill="none" stroke="#4d4d4d" stroke-width="0.88"/>
<path d="M2548.8 2115.0 L2553.4 2110.4 L2558.0 2115.0 L2553.4 2119.6 Z" fill="none" stroke="#4d4d4d" stroke-width="0.88"/>
<path d="M2605.8 2058.0 L2610.4 2053.4 L2615.0 2058.0 L2610.4 2062.6 Z" fill="none" stroke="#4d4d4d" stroke-width="0.88"/>
<path d="M2605.8 2115.0 L2610.4 2110.4 L2615.0 2115.0 L2610.4 2119.6 Z" fill="none" stroke="#4d4d4d" stroke-width="0.88"/>
<path d="M2662.8 1997.4 L2639.3 1997.4 A6 6 0 0 0 2633.3 2003.4 L2633.3 2169.3 A6 6 0 0 0 2639.3 2175.3 L2662.8 2175.3" fill="none" stroke="#6e6e6e" stroke-width="1.15" />
<rect x="2655.3" y="1989.3" width="7.5" height="195.2" rx="0" fill="none" stroke="#6e6e6e" stroke-width="1.03"/>
<path d="M2659.3 1989.3 L2659.3 2184.5" fill="none" stroke="#6e6e6e" stroke-width="0.92"/>
</g>
<g id="kitchen">
<path d="M2699.8 1654.7 L2876.6 1654.7" fill="none" stroke="#6e6e6e" stroke-width="1.26"/>
<path d="M2870.8 1654.7 L2870.8 1832.5" fill="none" stroke="#6e6e6e" stroke-width="1.15"/>
<path d="M2876.6 1654.7 L2876.6 1838.4" fill="none" stroke="#6e6e6e" stroke-width="1.15"/>
<path d="M3327.8 1654.7 L3151.6 1654.7 L3151.6 2009.0" fill="none" stroke="#6e6e6e" stroke-width="1.26"/>
<path d="M3151.6 1654.7 L3151.6 1832.5" fill="none" stroke="#4d4d4d" stroke-width="1.1"/>
<path d="M3166.5 1654.7 L3166.5 1832.5" fill="none" stroke="#6e6e6e" stroke-width="1.15"/>
<path d="M3151.6 1787.2 L3149.4 1787.2 L3149.4 1817.4 L3151.6 1817.4" fill="none" stroke="#6e6e6e" stroke-width="0.92"/>
<path d="M3217.6 1693.4 L3262.4 1693.4" fill="none" stroke="#4d4d4d" stroke-width="1.1"/>
<path d="M3228.5 1674.1 L3251.5 1712.7" fill="none" stroke="#4d4d4d" stroke-width="1.1"/>
<path d="M3251.5 1674.1 L3228.5 1712.7" fill="none" stroke="#4d4d4d" stroke-width="1.1"/>
<path d="M3217.6 1743.7 L3262.4 1743.7" fill="none" stroke="#6e6e6e" stroke-width="1.15"/>
<path d="M3228.5 1724.4 L3251.5 1763.0" fill="none" stroke="#4d4d4d" stroke-width="1.1"/>
<path d="M3251.5 1724.4 L3228.5 1763.0" fill="none" stroke="#4d4d4d" stroke-width="1.1"/>
<path d="M3217.6 1793.8 L3262.4 1793.8" fill="none" stroke="#6e6e6e" stroke-width="1.15"/>
<path d="M3228.5 1774.5 L3251.5 1813.1" fill="none" stroke="#4d4d4d" stroke-width="1.1"/>
<path d="M3251.5 1774.5 L3228.5 1813.1" fill="none" stroke="#4d4d4d" stroke-width="1.1"/>
<path d="M2699.8 1832.5 L3053.8 1832.5" fill="none" stroke="#4d4d4d" stroke-width="1.1"/>
<path d="M3062.6 1832.5 L3327.8 1832.5" fill="none" stroke="#4d4d4d" stroke-width="1.1"/>
<path d="M2876.6 1838.4 L2876.6 2009.0" fill="none" stroke="#6e6e6e" stroke-width="1.15"/>
<path d="M2876.6 1838.4 L3053.8 1838.4" fill="none" stroke="#4d4d4d" stroke-width="1.1"/>
<path d="M3053.8 1832.5 L3053.8 2009.0" fill="none" stroke="#6e6e6e" stroke-width="1.15"/>
<path d="M3055.5 1838.4 L3055.5 2009.0" fill="none" stroke="#6e6e6e" stroke-width="1.15"/>
<path d="M3062.6 1832.5 L3062.6 2009.0" fill="none" stroke="#6e6e6e" stroke-width="1.15"/>
<rect x="2717.2" y="1879.6" width="47.4" height="95.1" rx="6" fill="none" stroke="#4d4d4d" stroke-width="1.1"/>
<rect x="2770.5" y="1849.9" width="88.8" height="124.8" rx="6" fill="none" stroke="#6e6e6e" stroke-width="1.15"/>
<circle cx="2742.5" cy="1956.3" r="6.2" fill="none" stroke="#4d4d4d" stroke-width="0.9"/>
<circle cx="2791.4" cy="1944.6" r="6.2" fill="none" stroke="#4d4d4d" stroke-width="0.9"/>
<circle cx="2750.0" cy="1988.7" r="4.6" fill="none" stroke="#4d4d4d" stroke-width="0.9"/>
<path d="M2747.8 1992.3 L2752.2 1985.1" fill="none" stroke="#4d4d4d" stroke-width="0.88"/>
<circle cx="2787.2" cy="1988.7" r="4.6" fill="none" stroke="#4d4d4d" stroke-width="0.9"/>
<path d="M2785.0 1992.3 L2789.4 1985.1" fill="none" stroke="#4d4d4d" stroke-width="0.88"/>
<rect x="2762.1" y="1982.7" width="12.6" height="12.9" rx="0" fill="none" stroke="#6e6e6e" stroke-width="1.03"/>
<g transform="translate(2768.4 1988.3) rotate(-46)"><rect x="-4" y="-4.8" width="44" height="9.6" fill="#fff" stroke="#4d4d4d" stroke-width="1"/><path d="M0 -4.4 L22 -3 Q25 0 22 3 L0 4.4 A4.4 4.4 0 0 1 0 -4.4 Z" fill="#fff" stroke="#4d4d4d" stroke-width="0.9"/></g>
<path d="M2913.7 1876.5 L3021.8 1876.5" fill="none" stroke="#4d4d4d" stroke-width="1.1"/>
<path d="M2913.7 1876.5 A37 37 0 1 0 2981.5 1905.5" fill="none" stroke="#4d4d4d" stroke-width="1.1" />
<path d="M2923.5 1876.5 A28.2 28.2 0 1 0 2973.5 1898.5" fill="none" stroke="#4d4d4d" stroke-width="1.1" />
<path d="M3021.8 1876.5 A29.7 29.7 0 0 1 2962.4 1876.5" fill="none" stroke="#4d4d4d" stroke-width="1.1" />
<path d="M3014.5 1876.5 A22.4 22.4 0 0 1 2969.7 1876.5" fill="none" stroke="#4d4d4d" stroke-width="1.1" />
<path d="M3000.9 1949.2 L2992.6 1933.3 A9 9 0 1 1 3009.2 1933.3 Z" fill="none" stroke="#4d4d4d" stroke-width="1.1" />
<path d="M2983.3 1983.7 L2972.2 1962.7 A12 12 0 1 1 2994.4 1962.7 Z" fill="none" stroke="#4d4d4d" stroke-width="1.1" />
<circle cx="3107.3" cy="1888.4" r="25.1" fill="none" stroke="#4d4d4d" stroke-width="1.0"/>
<circle cx="3107.3" cy="1964.9" r="35.5" fill="none" stroke="#4d4d4d" stroke-width="1" stroke-dasharray="52.8 3" stroke-dashoffset="-2"/>
<circle cx="3107.3" cy="1964.9" r="22.0" fill="none" stroke="#4d4d4d" stroke-width="1.0"/>
</g>
<g id="walls">
<path d="M162.0 214.2H212.1V288.5H162.0ZM162.0 288.0H216.1V419.2H162.0ZM119.0 419.0H253.0V806.6H119.0ZM119.0 806.0H180.0V2280.8H119.0ZM119.0 2207.0H1873.3V2280.8H119.0ZM1873.3 2201.2H2124.0V2280.8H1873.3ZM2454.0 2200.8H2847.2V2286.5H2454.0ZM180.0 1631.1H657.8V1668.4H180.0ZM893.6 1631.1H1385.9V1668.4H893.6ZM1621.6 1631.1H1873.3V1668.6H1621.6ZM1115.2 288.0H1152.9V1336.8H1115.2ZM1122.5 214.2H1133.3V288.5H1122.5ZM1136.4 214.2H1146.8V288.5H1136.4ZM1152.7 1269.9H1371.1V1306.9H1152.7ZM1636.6 1269.9H2155.9V1306.9H1636.6ZM2119.1 790.0H2155.9V1306.9H2119.1ZM2026.1 435.5H2155.9V790.1H2026.1ZM2026.1 429.6H2032.2V796.2H2026.1ZM2073.9 288.0H2110.9V436.0H2073.9ZM3328.1 288.0H3388.9V2068.1H3328.1ZM3355.1 214.2H3365.9V288.5H3355.1ZM2788.2 2009.1H3388.9V2068.1H2788.2ZM2788.2 2009.1H2847.2V2286.5H2788.2ZM2662.8 1631.1H2699.8V2207.0H2662.8ZM2699.6 2012.8H2788.5V2031.6H2699.6ZM1115.2 1601.9H1152.9V2207.5H1115.2ZM1835.6 1631.1H1873.3V2207.5H1835.6ZM809.4 2081.7H942.7V2207.5H809.4ZM1725.1 2081.6H1836.0V2104.0H1725.1ZM1725.1 2081.6H1747.8V2207.5H1725.1Z" fill="#4d4d4d" fill-rule="nonzero"/>
<rect x="171.3" y="798.1" width="73.5" height="4.3" fill="#fff"/>
<rect x="2026.1" y="429.5" width="47.8" height="1.3" fill="#999"/>
<rect x="2110.9" y="429.5" width="45.0" height="1.3" fill="#999"/>
<rect x="2026.1" y="795.3" width="93.0" height="1.2" fill="#999"/>
<rect x="2026.1" y="429.5" width="6.1" height="367.0" fill="#4d4d4d"/>
<rect x="832.3" y="2104.0" width="88.0" height="103.0" fill="#fff"/>
<rect x="2699.8" y="2031.6" width="88.4" height="175.2" fill="#fff"/>
<rect x="179.9" y="2207.9" width="86.3" height="2.3" fill="#fff"/>
<rect x="1729.2" y="2082.4" width="106.5" height="1.9" fill="#fff"/>
<rect x="2699.8" y="2009.0" width="88.5" height="1.1" fill="#4d4d4d"/>
<rect x="2699.8" y="2010.1" width="88.5" height="2.7" fill="#fff"/>
</g>
<g id="windows">
<rect x="392.2" y="219.2" width="734.9" height="3.6" fill="#a9a9a9"/>
<rect x="392.2" y="225.1" width="734.9" height="1.8" fill="#4d4d4d"/>
<rect x="392.2" y="230.0" width="734.9" height="0.9" fill="#4d4d4d"/>
<rect x="392.2" y="230.9" width="734.9" height="1.6" fill="#a9a9a9"/>
<rect x="1142.2" y="219.2" width="735.8" height="3.6" fill="#a9a9a9"/>
<rect x="1142.2" y="225.1" width="735.8" height="1.8" fill="#4d4d4d"/>
<rect x="1142.2" y="230.0" width="735.8" height="0.9" fill="#4d4d4d"/>
<rect x="1142.2" y="230.9" width="735.8" height="1.6" fill="#a9a9a9"/>
<rect x="2305.8" y="219.2" width="374.7" height="3.6" fill="#a9a9a9"/>
<rect x="2305.8" y="225.1" width="374.7" height="1.8" fill="#4d4d4d"/>
<rect x="2305.8" y="230.0" width="374.7" height="0.9" fill="#4d4d4d"/>
<rect x="2305.8" y="230.9" width="374.7" height="1.6" fill="#a9a9a9"/>
<rect x="2694.5" y="219.2" width="666.0" height="3.6" fill="#a9a9a9"/>
<rect x="2694.5" y="225.1" width="666.0" height="1.8" fill="#4d4d4d"/>
<rect x="2694.5" y="230.0" width="666.0" height="0.9" fill="#4d4d4d"/>
<rect x="2694.5" y="230.9" width="666.0" height="1.6" fill="#a9a9a9"/>
<rect x="396.8" y="214.0" width="725.7" height="1.0" fill="#4d4d4d"/>
<rect x="1146.8" y="214.0" width="726.2" height="1.0" fill="#4d4d4d"/>
<rect x="2310.3" y="214.0" width="365.1" height="1.0" fill="#4d4d4d"/>
<rect x="2699.6" y="214.0" width="655.8" height="1.0" fill="#4d4d4d"/>
<rect x="396.8" y="287.0" width="718.4" height="1.9" fill="#999"/>
<rect x="1152.7" y="287.0" width="720.3" height="1.9" fill="#999"/>
<rect x="2310.3" y="287.0" width="1017.5" height="1.9" fill="#999"/>
<rect x="1122.5" y="214.2" width="10.8" height="74.3" fill="#4d4d4d"/>
<rect x="1136.4" y="214.2" width="10.4" height="74.3" fill="#4d4d4d"/>
<rect x="1122.2" y="219.7" width="4.9" height="12.6" fill="#fff"/>
<rect x="1122.5" y="219.2" width="4.6" height="3.6" fill="#a9a9a9"/>
<rect x="1122.5" y="225.1" width="4.6" height="1.8" fill="#4d4d4d"/>
<rect x="1122.5" y="230.0" width="4.6" height="0.9" fill="#4d4d4d"/>
<rect x="1122.5" y="230.9" width="4.6" height="1.6" fill="#a9a9a9"/>
<rect x="1142.2" y="219.7" width="4.9" height="12.6" fill="#fff"/>
<rect x="1142.2" y="219.2" width="4.6" height="3.6" fill="#a9a9a9"/>
<rect x="1142.2" y="225.1" width="4.6" height="1.8" fill="#4d4d4d"/>
<rect x="1142.2" y="230.0" width="4.6" height="0.9" fill="#4d4d4d"/>
<rect x="1142.2" y="230.9" width="4.6" height="1.6" fill="#a9a9a9"/>
<rect x="1122.7" y="208.4" width="10.4" height="5.8" rx="0" fill="none" stroke="#4d4d4d" stroke-width="0.99"/>
<rect x="1136.6" y="208.4" width="10.0" height="5.8" rx="0" fill="none" stroke="#4d4d4d" stroke-width="0.99"/>
<rect x="2675.4" y="214.2" width="10.4" height="74.3" fill="#4d4d4d"/>
<rect x="2689.2" y="214.2" width="10.4" height="74.3" fill="#4d4d4d"/>
<rect x="2675.1" y="219.7" width="4.9" height="12.6" fill="#fff"/>
<rect x="2675.4" y="219.2" width="4.6" height="3.6" fill="#a9a9a9"/>
<rect x="2675.4" y="225.1" width="4.6" height="1.8" fill="#4d4d4d"/>
<rect x="2675.4" y="230.0" width="4.6" height="0.9" fill="#4d4d4d"/>
<rect x="2675.4" y="230.9" width="4.6" height="1.6" fill="#a9a9a9"/>
<rect x="2695.0" y="219.7" width="4.9" height="12.6" fill="#fff"/>
<rect x="2695.0" y="219.2" width="4.6" height="3.6" fill="#a9a9a9"/>
<rect x="2695.0" y="225.1" width="4.6" height="1.8" fill="#4d4d4d"/>
<rect x="2695.0" y="230.0" width="4.6" height="0.9" fill="#4d4d4d"/>
<rect x="2695.0" y="230.9" width="4.6" height="1.6" fill="#a9a9a9"/>
<rect x="2675.6" y="208.4" width="10.0" height="5.8" rx="0" fill="none" stroke="#4d4d4d" stroke-width="0.99"/>
<rect x="2689.4" y="208.4" width="10.0" height="5.8" rx="0" fill="none" stroke="#4d4d4d" stroke-width="0.99"/>
<rect x="3355.4" y="214.2" width="10.0" height="74.3" fill="#4d4d4d"/>
<rect x="3355.1" y="219.7" width="5.1" height="12.6" fill="#fff"/>
<rect x="3355.4" y="219.2" width="4.8" height="3.6" fill="#a9a9a9"/>
<rect x="3355.4" y="225.1" width="4.8" height="1.8" fill="#4d4d4d"/>
<rect x="3355.4" y="230.0" width="4.8" height="0.9" fill="#4d4d4d"/>
<rect x="3355.4" y="230.9" width="4.8" height="1.6" fill="#a9a9a9"/>
<rect x="3355.6" y="208.4" width="9.6" height="5.8" rx="0" fill="none" stroke="#4d4d4d" stroke-width="0.99"/>
<rect x="205.9" y="221.1" width="6.4" height="13.9" fill="#fff"/>
<rect x="212.1" y="215.4" width="161.0" height="4.2" fill="#fff"/>
<rect x="212.1" y="214.0" width="161.0" height="1.2" fill="#4d4d4d"/>
<rect x="239.1" y="219.7" width="107.0" height="1.0" fill="#999"/>
<rect x="205.9" y="221.1" width="34.7" height="13.9" fill="#fff"/>
<rect x="205.9" y="220.2" width="34.7" height="0.9" fill="#4d4d4d"/>
<rect x="205.9" y="234.5" width="34.7" height="1.1" fill="#999"/>
<rect x="344.6" y="221.1" width="34.7" height="13.9" fill="#fff"/>
<rect x="344.6" y="220.2" width="34.7" height="0.9" fill="#4d4d4d"/>
<rect x="344.6" y="234.5" width="34.7" height="1.1" fill="#999"/>
<rect x="212.1" y="235.6" width="29.0" height="22.6" fill="#fff"/>
<rect x="344.1" y="235.6" width="29.0" height="22.6" fill="#fff"/>
<path d="M238.2 221.1 L241.5 230.3 L241.5 258.2" fill="none" stroke="#4d4d4d" stroke-width="1.1"/>
<path d="M347.0 221.1 L343.7 230.3 L343.7 258.2" fill="none" stroke="#4d4d4d" stroke-width="1.1"/>
<rect x="212.1" y="258.0" width="161.0" height="1.0" fill="#4d4d4d"/>
<path d="M243.1 259.0 L342.1 259.0 L338.1 263.2 L247.1 263.2 Z" fill="#fff" stroke="#4d4d4d" stroke-width="0.88"/>
<rect x="243.1" y="259.0" width="99.0" height="1.2" fill="#999"/>
<rect x="241.1" y="263.2" width="103.0" height="12.7" fill="#fff"/>
<rect x="241.1" y="262.8" width="103.0" height="0.9" fill="#4d4d4d"/>
<rect x="241.1" y="265.2" width="103.0" height="0.8" fill="#4d4d4d"/>
<rect x="241.1" y="268.6" width="103.0" height="1.5" fill="#4d4d4d"/>
<rect x="241.1" y="272.8" width="103.0" height="0.8" fill="#4d4d4d"/>
<rect x="241.1" y="275.2" width="103.0" height="0.9" fill="#4d4d4d"/>
<path d="M241.1 263.2 L241.1 275.9" fill="none" stroke="#4d4d4d" stroke-width="0.99"/>
<path d="M344.1 263.2 L344.1 275.9" fill="none" stroke="#4d4d4d" stroke-width="0.99"/>
<rect x="245.5" y="276.2" width="94.2" height="11.0" fill="#fff"/>
<path d="M245.5 276.0 L245.5 287.5" fill="none" stroke="#4d4d4d" stroke-width="0.99"/>
<path d="M339.7 276.0 L339.7 287.5" fill="none" stroke="#999" stroke-width="0.9"/>
<path d="M232.3 259.5 L232.3 286.0" fill="none" stroke="#999" stroke-width="0.9"/>
<path d="M352.9 259.5 L352.9 286.0" fill="none" stroke="#4d4d4d" stroke-width="0.99"/>
<rect x="212.1" y="284.6" width="20.2" height="1.2" fill="#999"/>
<rect x="352.9" y="284.6" width="20.2" height="1.2" fill="#999"/>
<path d="M232.1 286.3 L226.4 286.3 L226.4 288.0" fill="none" stroke="#4d4d4d" stroke-width="0.99"/>
<path d="M353.1 286.3 L358.8 286.3 L358.8 288.0" fill="none" stroke="#4d4d4d" stroke-width="0.99"/>
<rect x="212.1" y="287.0" width="161.0" height="1.9" fill="#999"/>
<rect x="373.1" y="214.2" width="10.1" height="74.3" fill="#4d4d4d"/>
<rect x="386.4" y="214.2" width="10.3" height="74.3" fill="#4d4d4d"/>
<rect x="391.8" y="219.7" width="5.2" height="12.6" fill="#fff"/>
<rect x="392.2" y="219.2" width="4.5" height="3.6" fill="#a9a9a9"/>
<rect x="392.2" y="225.1" width="4.5" height="1.8" fill="#4d4d4d"/>
<rect x="392.2" y="230.0" width="4.5" height="0.9" fill="#4d4d4d"/>
<rect x="392.2" y="230.9" width="4.5" height="1.6" fill="#a9a9a9"/>
<rect x="372.8" y="221.1" width="6.5" height="13.9" fill="#fff"/>
<rect x="212.1" y="215.4" width="161.0" height="4.2" fill="#fff"/>
<rect x="212.1" y="214.0" width="161.0" height="1.2" fill="#4d4d4d"/>
<rect x="239.1" y="219.7" width="107.0" height="1.0" fill="#999"/>
<rect x="205.9" y="221.1" width="34.7" height="13.9" fill="#fff"/>
<rect x="205.9" y="220.2" width="34.7" height="0.9" fill="#4d4d4d"/>
<rect x="205.9" y="234.5" width="34.7" height="1.1" fill="#999"/>
<rect x="344.6" y="221.1" width="34.7" height="13.9" fill="#fff"/>
<rect x="344.6" y="220.2" width="34.7" height="0.9" fill="#4d4d4d"/>
<rect x="344.6" y="234.5" width="34.7" height="1.1" fill="#999"/>
<rect x="212.1" y="235.6" width="29.0" height="22.6" fill="#fff"/>
<rect x="344.1" y="235.6" width="29.0" height="22.6" fill="#fff"/>
<path d="M238.2 221.1 L241.5 230.3 L241.5 258.2" fill="none" stroke="#4d4d4d" stroke-width="1.1"/>
<path d="M347.0 221.1 L343.7 230.3 L343.7 258.2" fill="none" stroke="#4d4d4d" stroke-width="1.1"/>
<rect x="212.1" y="258.0" width="161.0" height="1.0" fill="#4d4d4d"/>
<path d="M243.1 259.0 L342.1 259.0 L338.1 263.2 L247.1 263.2 Z" fill="#fff" stroke="#4d4d4d" stroke-width="0.88"/>
<rect x="243.1" y="259.0" width="99.0" height="1.2" fill="#999"/>
<rect x="241.1" y="263.2" width="103.0" height="12.7" fill="#fff"/>
<rect x="241.1" y="262.8" width="103.0" height="0.9" fill="#4d4d4d"/>
<rect x="241.1" y="265.2" width="103.0" height="0.8" fill="#4d4d4d"/>
<rect x="241.1" y="268.6" width="103.0" height="1.5" fill="#4d4d4d"/>
<rect x="241.1" y="272.8" width="103.0" height="0.8" fill="#4d4d4d"/>
<rect x="241.1" y="275.2" width="103.0" height="0.9" fill="#4d4d4d"/>
<path d="M241.1 263.2 L241.1 275.9" fill="none" stroke="#4d4d4d" stroke-width="0.99"/>
<path d="M344.1 263.2 L344.1 275.9" fill="none" stroke="#4d4d4d" stroke-width="0.99"/>
<rect x="245.5" y="276.2" width="94.2" height="11.0" fill="#fff"/>
<path d="M245.5 276.0 L245.5 287.5" fill="none" stroke="#4d4d4d" stroke-width="0.99"/>
<path d="M339.7 276.0 L339.7 287.5" fill="none" stroke="#999" stroke-width="0.9"/>
<path d="M232.3 259.5 L232.3 286.0" fill="none" stroke="#999" stroke-width="0.9"/>
<path d="M352.9 259.5 L352.9 286.0" fill="none" stroke="#4d4d4d" stroke-width="0.99"/>
<rect x="212.1" y="284.6" width="20.2" height="1.2" fill="#999"/>
<rect x="352.9" y="284.6" width="20.2" height="1.2" fill="#999"/>
<path d="M232.1 286.3 L226.4 286.3 L226.4 288.0" fill="none" stroke="#4d4d4d" stroke-width="0.99"/>
<path d="M353.1 286.3 L358.8 286.3 L358.8 288.0" fill="none" stroke="#4d4d4d" stroke-width="0.99"/>
<rect x="212.1" y="287.0" width="161.0" height="1.9" fill="#999"/>
<path d="M162.1 208.6 L169.4 208.6 L169.4 214.2" fill="none" stroke="#4d4d4d" stroke-width="0.99"/>
<path d="M183.5 214.2 L183.5 208.6 L193.6 208.6 L194.6 210.2 L196.9 210.2 L197.9 208.6 L208.0 208.6 L208.0 214.2" fill="none" stroke="#4d4d4d" stroke-width="0.99"/>
<path d="M221.8 214.2 L221.8 208.6 L231.9 208.6 L232.9 210.2 L235.2 210.2 L236.2 208.6 L246.3 208.6 L246.3 214.2" fill="none" stroke="#4d4d4d" stroke-width="0.99"/>
<path d="M260.1 214.2 L260.1 208.6 L270.2 208.6 L271.2 210.2 L273.6 210.2 L274.6 208.6 L284.6 208.6 L284.6 214.2" fill="none" stroke="#4d4d4d" stroke-width="0.99"/>
<path d="M298.4 214.2 L298.4 208.6 L308.4 208.6 L309.4 210.2 L311.8 210.2 L312.8 208.6 L322.9 208.6 L322.9 214.2" fill="none" stroke="#4d4d4d" stroke-width="0.99"/>
<rect x="336.9" y="208.2" width="24.5" height="6.2" fill="#4d4d4d"/>
<path d="M347.1 208.0 L348.1 209.8 L350.1 209.8 L351.1 208.0" fill="#fff" stroke="#fff" stroke-width="0.8"/>
<rect x="374.2" y="208.6" width="9.2" height="5.6" rx="0" fill="none" stroke="#4d4d4d" stroke-width="0.99"/>
<rect x="386.6" y="208.6" width="10.1" height="5.6" rx="0" fill="none" stroke="#4d4d4d" stroke-width="0.99"/>
<rect x="1873.0" y="214.2" width="10.2" height="74.3" fill="#4d4d4d"/>
<rect x="1886.2" y="214.2" width="10.6" height="74.3" fill="#4d4d4d"/>
<rect x="1872.7" y="219.7" width="5.1" height="12.6" fill="#fff"/>
<rect x="1873.0" y="219.2" width="4.8" height="3.6" fill="#a9a9a9"/>
<rect x="1873.0" y="225.1" width="4.8" height="1.8" fill="#4d4d4d"/>
<rect x="1873.0" y="230.0" width="4.8" height="0.9" fill="#4d4d4d"/>
<rect x="1873.0" y="230.9" width="4.8" height="1.6" fill="#a9a9a9"/>
<rect x="2057.0" y="214.2" width="68.2" height="74.3" fill="#4d4d4d"/>
<rect x="2286.1" y="214.2" width="10.7" height="74.3" fill="#4d4d4d"/>
<rect x="2299.4" y="214.2" width="10.7" height="74.3" fill="#4d4d4d"/>
<rect x="2305.5" y="219.7" width="4.9" height="12.6" fill="#fff"/>
<rect x="2305.8" y="219.2" width="4.3" height="3.6" fill="#a9a9a9"/>
<rect x="2305.8" y="225.1" width="4.3" height="1.8" fill="#4d4d4d"/>
<rect x="2305.8" y="230.0" width="4.3" height="0.9" fill="#4d4d4d"/>
<rect x="2305.8" y="230.9" width="4.3" height="1.6" fill="#a9a9a9"/>
<rect x="1886.2" y="258.2" width="410.6" height="30.3" fill="#4d4d4d"/>
<rect x="1896.3" y="258.2" width="162.0" height="30.3" fill="#4d4d4d"/>
<rect x="1896.8" y="215.4" width="161.0" height="4.2" fill="#fff"/>
<rect x="1896.8" y="214.0" width="161.0" height="1.2" fill="#4d4d4d"/>
<rect x="1923.8" y="219.7" width="107.0" height="1.0" fill="#999"/>
<rect x="1890.6" y="221.1" width="34.7" height="13.9" fill="#fff"/>
<rect x="1890.6" y="220.2" width="34.7" height="0.9" fill="#4d4d4d"/>
<rect x="1890.6" y="234.5" width="34.7" height="1.1" fill="#999"/>
<rect x="2029.3" y="221.1" width="34.7" height="13.9" fill="#fff"/>
<rect x="2029.3" y="220.2" width="34.7" height="0.9" fill="#4d4d4d"/>
<rect x="2029.3" y="234.5" width="34.7" height="1.1" fill="#999"/>
<rect x="1896.8" y="235.6" width="29.0" height="22.6" fill="#fff"/>
<rect x="2028.8" y="235.6" width="29.0" height="22.6" fill="#fff"/>
<path d="M1922.9 221.1 L1926.2 230.3 L1926.2 258.2" fill="none" stroke="#4d4d4d" stroke-width="1.1"/>
<path d="M2031.7 221.1 L2028.4 230.3 L2028.4 258.2" fill="none" stroke="#4d4d4d" stroke-width="1.1"/>
<rect x="1916.8" y="258.0" width="121.0" height="1.0" fill="#4d4d4d"/>
<path d="M1927.8 259.0 L2026.8 259.0 L2022.8 263.2 L1931.8 263.2 Z" fill="#fff" stroke="#4d4d4d" stroke-width="0.88"/>
<rect x="1927.8" y="259.0" width="99.0" height="1.2" fill="#999"/>
<rect x="1925.8" y="263.2" width="103.0" height="12.7" fill="#fff"/>
<rect x="1925.8" y="262.8" width="103.0" height="0.9" fill="#4d4d4d"/>
<rect x="1925.8" y="265.2" width="103.0" height="0.8" fill="#4d4d4d"/>
<rect x="1925.8" y="268.6" width="103.0" height="1.5" fill="#4d4d4d"/>
<rect x="1925.8" y="272.8" width="103.0" height="0.8" fill="#4d4d4d"/>
<rect x="1925.8" y="275.2" width="103.0" height="0.9" fill="#4d4d4d"/>
<rect x="1930.2" y="276.2" width="94.2" height="11.0" fill="#fff"/>
<rect x="1896.8" y="285.3" width="20.0" height="1.7" fill="#ddd"/>
<rect x="2037.8" y="285.3" width="20.0" height="1.7" fill="#ddd"/>
<rect x="1896.8" y="287.0" width="161.0" height="1.9" fill="#999"/>
<rect x="2124.6" y="258.2" width="162.0" height="30.3" fill="#4d4d4d"/>
<rect x="2125.1" y="215.4" width="161.0" height="4.2" fill="#fff"/>
<rect x="2125.1" y="214.0" width="161.0" height="1.2" fill="#4d4d4d"/>
<rect x="2152.1" y="219.7" width="107.0" height="1.0" fill="#999"/>
<rect x="2118.9" y="221.1" width="34.7" height="13.9" fill="#fff"/>
<rect x="2118.9" y="220.2" width="34.7" height="0.9" fill="#4d4d4d"/>
<rect x="2118.9" y="234.5" width="34.7" height="1.1" fill="#999"/>
<rect x="2257.6" y="221.1" width="34.7" height="13.9" fill="#fff"/>
<rect x="2257.6" y="220.2" width="34.7" height="0.9" fill="#4d4d4d"/>
<rect x="2257.6" y="234.5" width="34.7" height="1.1" fill="#999"/>
<rect x="2125.1" y="235.6" width="29.0" height="22.6" fill="#fff"/>
<rect x="2257.1" y="235.6" width="29.0" height="22.6" fill="#fff"/>
<path d="M2151.2 221.1 L2154.5 230.3 L2154.5 258.2" fill="none" stroke="#4d4d4d" stroke-width="1.1"/>
<path d="M2260.0 221.1 L2256.7 230.3 L2256.7 258.2" fill="none" stroke="#4d4d4d" stroke-width="1.1"/>
<rect x="2145.1" y="258.0" width="121.0" height="1.0" fill="#4d4d4d"/>
<path d="M2156.1 259.0 L2255.1 259.0 L2251.1 263.2 L2160.1 263.2 Z" fill="#fff" stroke="#4d4d4d" stroke-width="0.88"/>
<rect x="2156.1" y="259.0" width="99.0" height="1.2" fill="#999"/>
<rect x="2154.1" y="263.2" width="103.0" height="12.7" fill="#fff"/>
<rect x="2154.1" y="262.8" width="103.0" height="0.9" fill="#4d4d4d"/>
<rect x="2154.1" y="265.2" width="103.0" height="0.8" fill="#4d4d4d"/>
<rect x="2154.1" y="268.6" width="103.0" height="1.5" fill="#4d4d4d"/>
<rect x="2154.1" y="272.8" width="103.0" height="0.8" fill="#4d4d4d"/>
<rect x="2154.1" y="275.2" width="103.0" height="0.9" fill="#4d4d4d"/>
<rect x="2158.5" y="276.2" width="94.2" height="11.0" fill="#fff"/>
<rect x="2125.1" y="285.3" width="20.0" height="1.7" fill="#ddd"/>
<rect x="2266.1" y="285.3" width="20.0" height="1.7" fill="#ddd"/>
<rect x="2125.1" y="287.0" width="161.0" height="1.9" fill="#999"/>
<rect x="1873.2" y="208.6" width="10.0" height="5.6" rx="0" fill="none" stroke="#4d4d4d" stroke-width="0.99"/>
<rect x="1886.4" y="208.6" width="9.4" height="5.6" rx="0" fill="none" stroke="#4d4d4d" stroke-width="0.99"/>
<path d="M1905.3 214.2 L1905.3 208.6 L1915.2 208.6 L1916.2 210.2 L1918.6 210.2 L1919.6 208.6 L1929.6 208.6 L1929.6 214.2" fill="none" stroke="#4d4d4d" stroke-width="0.99"/>
<rect x="1943.6" y="208.2" width="24.3" height="6.2" fill="#4d4d4d"/>
<path d="M1953.8 208.0 L1954.8 209.8 L1956.8 209.8 L1957.8 208.0" fill="#fff" stroke="#fff" stroke-width="0.8"/>
<path d="M1982.0 214.2 L1982.0 208.6 L1991.9 208.6 L1992.9 210.2 L1995.3 210.2 L1996.3 208.6 L2006.3 208.6 L2006.3 214.2" fill="none" stroke="#4d4d4d" stroke-width="0.99"/>
<path d="M2020.3 214.2 L2020.3 208.6 L2030.2 208.6 L2031.2 210.2 L2033.6 210.2 L2034.6 208.6 L2044.6 208.6 L2044.6 214.2" fill="none" stroke="#4d4d4d" stroke-width="0.99"/>
<path d="M2058.6 214.2 L2058.6 208.6 L2068.6 208.6 L2069.6 210.2 L2072.0 210.2 L2073.0 208.6 L2082.9 208.6 L2082.9 214.2" fill="none" stroke="#4d4d4d" stroke-width="0.99"/>
<path d="M2096.9 214.2 L2096.9 208.6 L2106.9 208.6 L2107.9 210.2 L2110.3 210.2 L2111.3 208.6 L2121.2 208.6 L2121.2 214.2" fill="none" stroke="#4d4d4d" stroke-width="0.99"/>
<path d="M2135.3 214.2 L2135.3 208.6 L2145.2 208.6 L2146.2 210.2 L2148.6 210.2 L2149.6 208.6 L2159.6 208.6 L2159.6 214.2" fill="none" stroke="#4d4d4d" stroke-width="0.99"/>
<path d="M2173.6 214.2 L2173.6 208.6 L2183.6 208.6 L2184.6 210.2 L2187.0 210.2 L2188.0 208.6 L2197.9 208.6 L2197.9 214.2" fill="none" stroke="#4d4d4d" stroke-width="0.99"/>
<rect x="2211.9" y="208.2" width="24.3" height="6.2" fill="#4d4d4d"/>
<path d="M2222.1 208.0 L2223.1 209.8 L2225.1 209.8 L2226.1 208.0" fill="#fff" stroke="#fff" stroke-width="0.8"/>
<path d="M2250.3 214.2 L2250.3 208.6 L2260.2 208.6 L2261.2 210.2 L2263.6 210.2 L2264.6 208.6 L2274.6 208.6 L2274.6 214.2" fill="none" stroke="#4d4d4d" stroke-width="0.99"/>
<rect x="2287.3" y="208.6" width="9.3" height="5.6" rx="0" fill="none" stroke="#4d4d4d" stroke-width="0.99"/>
<rect x="2299.6" y="208.6" width="10.7" height="5.6" rx="0" fill="none" stroke="#4d4d4d" stroke-width="0.99"/>
</g>
<g id="doors">
<rect x="879.3" y="1575.3" width="236.4" height="12.2" rx="0" fill="none" stroke="#4d4d4d" stroke-width="1.1"/>
<path d="M879.4 1575.1 A236.6 236.6 0 0 1 1115.7 1350.9" fill="none" stroke="#4d4d4d" stroke-width="1.1" />
<path d="M1115.7 1336.8 L1136.4 1336.8 L1136.4 1354.5 L1127.1 1354.5 L1127.1 1350.6 L1115.7 1350.6 Z" fill="none" stroke="#6e6e6e" stroke-width="1.03"/>
<path d="M1115.7 1342.3 L1136.4 1342.3" fill="none" stroke="#4d4d4d" stroke-width="0.99"/>
<path d="M1115.7 1336.8 L1115.7 1350.6" fill="none" stroke="#4d4d4d" stroke-width="0.99"/>
<path d="M1115.7 1587.5 L1127.1 1587.5 L1127.1 1584.2 L1136.4 1584.2 L1136.4 1601.9 L1115.7 1601.9 Z" fill="none" stroke="#6e6e6e" stroke-width="1.03"/>
<path d="M1115.7 1595.6 L1136.4 1595.6" fill="none" stroke="#6e6e6e" stroke-width="1.03"/>
<path d="M1115.7 1575.3 L1115.7 1601.9" fill="none" stroke="#4d4d4d" stroke-width="0.99"/>
<rect x="1385.2" y="1033.3" width="12.6" height="237.1" rx="0" fill="none" stroke="#6e6e6e" stroke-width="1.15"/>
<path d="M1397.8 1033.3 L1397.8 1270.4 L1385.2 1270.4" fill="none" stroke="#4d4d4d" stroke-width="1.1"/>
<path d="M1397.6 1033.4 A237.3 237.3 0 0 1 1622.5 1270.4" fill="none" stroke="#4d4d4d" stroke-width="1.1" />
<path d="M1371.1 1270.4 L1385.2 1270.4 L1385.2 1281.5 L1388.9 1281.5 L1388.9 1290.6 L1371.1 1290.6" fill="none" stroke="#4d4d4d" stroke-width="0.99"/>
<path d="M1376.6 1270.4 L1376.6 1290.6" fill="none" stroke="#6e6e6e" stroke-width="1.03"/>
<path d="M1371.6 1270.4 L1371.6 1290.6" fill="none" stroke="#6e6e6e" stroke-width="1.03"/>
<path d="M1636.6 1270.4 L1622.5 1270.4 L1622.5 1281.5 L1618.4 1281.5 L1618.4 1290.6 L1636.6 1290.6" fill="none" stroke="#4d4d4d" stroke-width="0.99"/>
<path d="M1630.7 1270.4 L1630.7 1290.6" fill="none" stroke="#6e6e6e" stroke-width="1.03"/>
<rect x="867.4" y="1668.3" width="12.3" height="206.9" rx="0" fill="none" stroke="#6e6e6e" stroke-width="1.15"/>
<path d="M879.7 1668.3 L867.4 1668.3 L867.4 1875.2" fill="none" stroke="#4d4d4d" stroke-width="1.1"/>
<path d="M672.8 1668.3 A206.9 206.9 0 0 0 867.4 1874.8" fill="none" stroke="#4d4d4d" stroke-width="1.1" />
<path d="M657.8 1647.4 L675.7 1647.4 L675.7 1656.6 L672.8 1656.6 L672.8 1668.3 L657.8 1668.3" fill="none" stroke="#4d4d4d" stroke-width="0.99"/>
<path d="M657.8 1647.4 L675.7 1647.4" fill="none" stroke="#6e6e6e" stroke-width="1.03"/>
<path d="M663.3 1647.4 L663.3 1668.3" fill="none" stroke="#6e6e6e" stroke-width="1.03"/>
<path d="M658.3 1647.4 L658.3 1668.3" fill="none" stroke="#6e6e6e" stroke-width="1.03"/>
<path d="M893.6 1647.4 L876.4 1647.4 L876.4 1656.6 L879.7 1656.6 L879.7 1668.3 L893.6 1668.3" fill="none" stroke="#4d4d4d" stroke-width="0.99"/>
<path d="M893.6 1647.4 L876.4 1647.4" fill="none" stroke="#6e6e6e" stroke-width="1.03"/>
<path d="M888.4 1647.4 L888.4 1668.3" fill="none" stroke="#6e6e6e" stroke-width="1.03"/>
<rect x="1400.5" y="1668.3" width="12.1" height="206.9" rx="0" fill="none" stroke="#6e6e6e" stroke-width="1.15"/>
<path d="M1412.6 1668.3 L1400.5 1668.3 L1400.5 1875.2" fill="none" stroke="#4d4d4d" stroke-width="1.1"/>
<path d="M1607.6 1668.3 A207.1 207.1 0 0 1 1412.8 1875.0" fill="none" stroke="#4d4d4d" stroke-width="1.1" />
<path d="M1385.9 1647.4 L1403.6 1647.4 L1403.6 1656.6 L1400.5 1656.6 L1400.5 1668.3 L1385.9 1668.3" fill="none" stroke="#4d4d4d" stroke-width="0.99"/>
<path d="M1385.9 1647.4 L1403.6 1647.4" fill="none" stroke="#6e6e6e" stroke-width="1.03"/>
<path d="M1391.6 1647.4 L1391.6 1668.3" fill="none" stroke="#4d4d4d" stroke-width="0.99"/>
<path d="M1621.6 1647.4 L1604.3 1647.4 L1604.3 1656.6 L1607.6 1656.6 L1607.6 1668.3 L1621.6 1668.3" fill="none" stroke="#4d4d4d" stroke-width="0.99"/>
<path d="M1621.6 1647.4 L1604.3 1647.4" fill="none" stroke="#6e6e6e" stroke-width="1.03"/>
<path d="M1615.9 1647.4 L1615.9 1668.3" fill="none" stroke="#6e6e6e" stroke-width="1.03"/>
<rect x="2137.5" y="1902.9" width="11.7" height="304.4" rx="0" fill="none" stroke="#6e6e6e" stroke-width="1.15"/>
<path d="M2137.5 1902.9 L2149.2 1902.9" fill="none" stroke="#4d4d4d" stroke-width="1.1"/>
<path d="M2149.2 1903.1 A304.4 304.4 0 0 1 2441.9 2207.3" fill="none" stroke="#4d4d4d" stroke-width="1.1" />
<path d="M2123.9 2207.3 L2149.2 2207.3" fill="none" stroke="#4d4d4d" stroke-width="0.99"/>
<path d="M2137.5 2207.3 L2137.5 2218.3 L2141.0 2218.3 L2141.0 2228.2 L2123.9 2228.2" fill="none" stroke="#6e6e6e" stroke-width="1.03"/>
<path d="M2127.0 2207.3 L2127.0 2228.2" fill="none" stroke="#6e6e6e" stroke-width="1.03"/>
<path d="M2454.0 2207.3 L2441.8 2207.3 L2441.8 2218.3 L2438.3 2218.3 L2438.3 2228.2 L2454.0 2228.2" fill="none" stroke="#6e6e6e" stroke-width="1.03"/>
<path d="M2441.8 2207.3 L2454.0 2207.3" fill="none" stroke="#4d4d4d" stroke-width="0.99"/>
<path d="M2451.2 2207.3 L2451.2 2228.2" fill="none" stroke="#4d4d4d" stroke-width="0.99"/>
<rect x="216.5" y="288.0" width="9.9" height="130.9" rx="0" fill="none" stroke="#6e6e6e" stroke-width="1.15"/>
<path d="M358.2 288.0 A131.8 131.8 0 0 1 226.4 419.8" fill="none" stroke="#4d4d4d" stroke-width="1.1" />
<path d="M226.4 288.0 L226.4 419.5" fill="none" stroke="#4d4d4d" stroke-width="1.1"/>
<path d="M1911.0 288.0 A131.8 131.8 0 0 0 2042.8 419.8" fill="none" stroke="#4d4d4d" stroke-width="1.1" />
<path d="M2042.8 288.0 L2042.8 420.4 L2040.5 420.4" fill="none" stroke="#6e6e6e" stroke-width="1.15"/>
<path d="M2271.2 288.0 A131.8 131.8 0 0 1 2139.4 419.8" fill="none" stroke="#4d4d4d" stroke-width="1.1" />
<path d="M2139.4 288.0 L2139.4 420.4 L2141.5 420.4" fill="none" stroke="#6e6e6e" stroke-width="1.15"/>
<path d="M422.2 320.7 C444.5 335.3 461.3 344.2 489.7 344.2 C524.7 344.2 538.0 320.7 573.0 320.7 C605.9 320.7 618.4 347.2 651.3 347.2 C682.6 347.2 694.5 324.5 725.8 324.5 C758.7 324.5 771.2 347.2 804.1 347.2 C834.3 347.2 845.9 328.3 876.1 328.3 C908.5 328.3 920.8 351.0 953.2 351.0" fill="none" stroke="#4d4d4d" stroke-width="1.1" />
<path d="M1336.4 320.3 C1369.5 320.3 1382.2 347.5 1415.3 347.5 C1447.9 347.5 1460.3 324.6 1492.9 324.6 C1524.6 324.6 1536.7 347.5 1568.4 347.5 C1599.2 347.5 1610.9 327.7 1641.7 327.7 C1674.3 327.7 1686.7 351.0 1719.3 351.0 C1751.1 351.0 1763.2 327.7 1795.0 327.7 C1824.3 327.7 1841.7 335.9 1864.7 349.2" fill="none" stroke="#4d4d4d" stroke-width="1.1" />
<path d="M2299.4 327.7 C2318.2 340.0 2332.4 347.5 2356.3 347.5 C2387.4 347.5 2399.3 326.8 2430.4 326.8 C2462.7 326.8 2474.9 348.4 2507.2 348.4 C2541.6 348.4 2554.8 326.8 2589.2 326.8" fill="none" stroke="#4d4d4d" stroke-width="1.1" />
<path d="M2693.1 320.6 C2714.9 337.5 2731.4 347.9 2759.1 347.9 C2794.4 347.9 2807.9 320.8 2843.2 320.8 C2875.6 320.8 2888.0 347.5 2920.4 347.5 C2952.6 347.5 2964.9 324.6 2997.1 324.6 C3029.4 324.6 3041.6 347.5 3073.9 347.5 C3104.1 347.5 3115.7 328.1 3145.9 328.1 C3177.6 328.1 3189.7 351.0 3221.4 351.0 C3231.0 351.0 3236.7 350.0 3244.2 348.4" fill="none" stroke="#4d4d4d" stroke-width="1.1" />
</g>
<g id="labels">
<text x="512.9" y="810.3" font-size="75" textLength="284.2" lengthAdjust="spacingAndGlyphs">Спальня</text>
<text x="502.2" y="917.7" font-size="79" textLength="300.8" lengthAdjust="spacingAndGlyphs">13.80 м²</text>
<text x="1643.9" y="996.5" font-size="75" textLength="284.3" lengthAdjust="spacingAndGlyphs">Спальня</text>
<text x="1633.3" y="1103.8" font-size="79" textLength="299.4" lengthAdjust="spacingAndGlyphs">10.20 м²</text>
<text x="2345.6" y="967.6" font-size="75" textLength="304.0" lengthAdjust="spacingAndGlyphs">Гостиная</text>
<text x="2345.4" y="1075.3" font-size="79" textLength="300.2" lengthAdjust="spacingAndGlyphs">16.70 м²</text>
<text x="1543.4" y="1436.8" font-size="75" textLength="304.5" lengthAdjust="spacingAndGlyphs">Коридор</text>
<text x="1567.9" y="1544.7" font-size="79" textLength="256.9" lengthAdjust="spacingAndGlyphs">3.70 м²</text>
<text x="512.4" y="1867.6" font-size="80" textLength="152.4" lengthAdjust="spacing">С/У</text>
<text x="459.7" y="1975.8" font-size="79" textLength="259.7" lengthAdjust="spacingAndGlyphs">5.50 м²</text>
<text x="1473.0" y="2038.7" font-size="80" textLength="151.4" lengthAdjust="spacing">С/У</text>
<text x="1421.8" y="2146.3" font-size="79" textLength="259.2" lengthAdjust="spacingAndGlyphs">4.00 м²</text>
<text x="2118.4" y="1724.8" font-size="75" textLength="304.7" lengthAdjust="spacingAndGlyphs">Коридор</text>
<text x="2142.3" y="1832.2" font-size="79" textLength="258.9" lengthAdjust="spacingAndGlyphs">5.10 м²</text>
<text x="2815.5" y="1574.4" font-size="75" textLength="403.5" lengthAdjust="spacingAndGlyphs">Кухня-ниша</text>
<text x="2890.7" y="1682.5" font-size="79" textLength="256.9" lengthAdjust="spacingAndGlyphs">3.80 м²</text>
</g>
</svg>
</body>
</html>
